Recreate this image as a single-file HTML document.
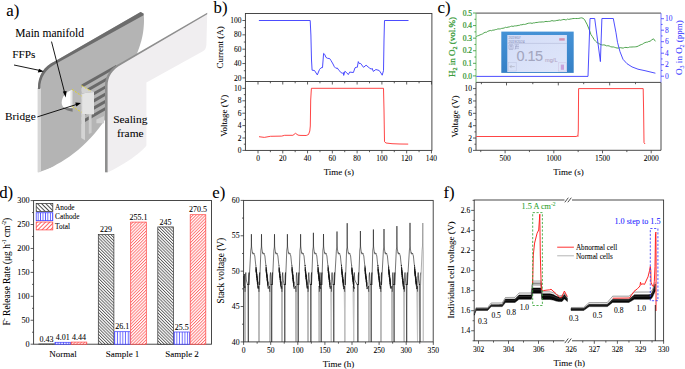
<!DOCTYPE html><html><head><meta charset="utf-8"><style>html,body{margin:0;padding:0;background:#fff;}svg{display:block;}</style></head><body>
<svg width="685" height="369" viewBox="0 0 685 369" font-family='"Liberation Serif", serif'>
<rect width="685" height="369" fill="#fff"/>
<defs><pattern id="hA" patternUnits="userSpaceOnUse" width="2.2" height="2.2" patternTransform="rotate(-45)"><rect width="2.2" height="2.2" fill="#fff"/><line x1="0.5" y1="0" x2="0.5" y2="2.2" stroke="#3a3a3a" stroke-width="0.75"/></pattern><pattern id="hC" patternUnits="userSpaceOnUse" width="2.7" height="4"><rect width="2.7" height="4" fill="#fff"/><line x1="1.3" y1="0" x2="1.3" y2="4" stroke="#3030ff" stroke-width="0.75"/></pattern><pattern id="hT" patternUnits="userSpaceOnUse" width="2.2" height="2.2" patternTransform="rotate(45)"><rect width="2.2" height="2.2" fill="#fff"/><line x1="0.5" y1="0" x2="0.5" y2="2.2" stroke="#ff5050" stroke-width="0.75"/></pattern><pattern id="lA" patternUnits="userSpaceOnUse" width="2.95" height="2.95" patternTransform="rotate(-45)"><rect width="2.95" height="2.95" fill="#fff"/><line x1="0.5" y1="0" x2="0.5" y2="2.95" stroke="#333" stroke-width="0.85"/></pattern><pattern id="lC" patternUnits="userSpaceOnUse" width="2.44" height="4" x="0.3"><rect width="2.44" height="4" fill="#fff"/><line x1="1.2" y1="0" x2="1.2" y2="4" stroke="#3030ff" stroke-width="0.8"/></pattern><pattern id="lT" patternUnits="userSpaceOnUse" width="2.95" height="2.95" patternTransform="rotate(45)"><rect width="2.95" height="2.95" fill="#fff"/><line x1="0.5" y1="0" x2="0.5" y2="2.95" stroke="#ff4a4a" stroke-width="0.85"/></pattern></defs>
<path d="M38,172.6 L38,89 C38,75 44,66.5 55,61.3 L140.6,12.1 L143.5,13.6 C144.2,17 144.2,24 143.5,29 C142.8,36 141,44 136,56 L130,140 Z" fill="#b4b4b4"/>
<path d="M40.6,172.6 C62,163 86,149 106.5,117.5 L110,117.5 L110,176 L36,176 Z" fill="#fff"/>
<path d="M37.6,88 L41,88 L41,172 L37.6,172.6 Z" fill="#d6d6d6"/>
<path d="M37.9,89 C37.9,75 44,66.5 55,61.3 L140.6,12.1 L143.5,13.6 L143.6,15.3 L56.3,63.6 C46,69 40.2,77 40.2,89 Z" fill="#6c6c6c"/>
<path d="M81.5,84.5 L116,65 L116,68.2 L81.5,88.1 Z" fill="#6a6a6a"/>
<path d="M81.5,91.7 L116,72.2 L116,75.4 L81.5,95.3 Z" fill="#6a6a6a"/>
<path d="M81.5,98.9 L116,79.4 L116,82.6 L81.5,102.5 Z" fill="#6a6a6a"/>
<path d="M81.5,106.1 L116,86.6 L116,89.8 L81.5,109.7 Z" fill="#6a6a6a"/>
<path d="M81.5,113.3 L116,93.8 L116,97 L81.5,116.9 Z" fill="#6a6a6a"/>
<path d="M81.5,120.5 L116,101 L116,104.2 L81.5,124.1 Z" fill="#6a6a6a"/>
<path d="M72.4,90 C66,91.5 61.7,97 61.7,102.5 C61.7,106 63.5,108.2 66.5,108.2 L72.4,108.2 Z" fill="#fff"/>
<rect x="70.4" y="90.3" width="2.2" height="17.9" fill="#e4e4e4"/>
<path d="M63.2,107.6 C65,109.6 68,111.2 72.6,111.8 L72.6,108.2 L66.5,108.2 C65,108.2 64,108 63.2,107.6 Z" fill="#777"/>
<path d="M72.6,89.4 L81.3,95.3 L81.3,112.6 L72.6,106.8 Z" fill="#bababa"/>
<path d="M81.3,93.5 L94,92 L94,114.3 L81.3,114.3 Z" fill="#e4e4e4"/>
<path d="M81.3,93.5 L82.2,93.4 L82.2,114.3 L81.3,114.3 Z" fill="#c8c8c8"/>
<path d="M81.6,85.4 L91,90.6 L94,92 L81.3,93.6 Z" fill="#d2d2d2"/>
<path d="M81.2,114 L85,114 L85,140.3 L81.2,138 Z" fill="#d4d4d4"/>
<path d="M88.8,114 L91.6,114 L91.6,132.7 L88.8,134 Z" fill="#cdcdcd"/>
<path d="M96.4,119.5 L104,116 L104,123.3 L96.4,123.3 Z" fill="#d0d0d0"/>
<line x1="72.1" y1="89.4" x2="81.6" y2="96" stroke="#e8d800" stroke-width="0.8" stroke-dasharray="2,1.5"/>
<line x1="72.1" y1="106.5" x2="81.6" y2="112.2" stroke="#e8d800" stroke-width="0.8" stroke-dasharray="2,1.5"/>
<line x1="81.6" y1="85.6" x2="91" y2="91.3" stroke="#e8d800" stroke-width="0.8" stroke-dasharray="2,1.5"/>
<path d="M106,176 L106,86 C106,76 111,68.5 121,63.5 L207.2,13.3 L206.4,45 C206,48.5 205,50 202.9,51.2 L146.4,82.6 L146.4,145.6 C141,153 124,165 107.5,172.6 Z" fill="#f0eef0"/>
<path d="M105,172.6 L105,86 C105,76 110,68 120.5,63 L207.2,12.8 L207.2,14.3 L121.5,64.5 C112,69.5 107.6,77 107.6,86 L107.6,172.6 Z" fill="#8e8e8e"/>
<rect x="0" y="172.6" width="210" height="4" fill="#fff"/>
<text x="6.3" y="16.3" font-size="16.8" text-anchor="start" fill="#000" stroke="#000" stroke-width="0.06" >a)</text>
<text x="15.3" y="37.3" font-size="11.5" text-anchor="start" fill="#000" stroke="#000" stroke-width="0.06" >Main manifold</text>
<text x="12.2" y="58.3" font-size="11.3" text-anchor="start" fill="#000" stroke="#000" stroke-width="0.06" >FFPs</text>
<text x="5" y="120" font-size="11.3" text-anchor="start" fill="#000" stroke="#000" stroke-width="0.06" >Bridge</text>
<text x="130.3" y="123.4" font-size="11.4" text-anchor="middle" fill="#000" stroke="#000" stroke-width="0.06" >Sealing</text>
<text x="130.3" y="137.3" font-size="11.4" text-anchor="middle" fill="#000" stroke="#000" stroke-width="0.06" >frame</text>
<line x1="51.5" y1="41.6" x2="65" y2="94" stroke="#000" stroke-width="0.9" />
<path d="M65.7,97.5 L62.8,91.5 L66.6,91 Z" fill="#000"/>
<line x1="14" y1="65" x2="40" y2="70.5" stroke="#000" stroke-width="0.9" />
<path d="M43.8,71.6 L37.8,72.6 L39,68.8 Z" fill="#000"/>
<line x1="37.4" y1="116.9" x2="77" y2="104.3" stroke="#000" stroke-width="0.9" />
<path d="M81,103.1 L76.3,106.6 L75.3,102.6 Z" fill="#000"/>
<rect x="245.4" y="13.5" width="186.5" height="136.9" fill="none" stroke="#363636" stroke-width="0.9" />
<line x1="245.4" y1="81.5" x2="431.9" y2="81.5" stroke="#363636" stroke-width="0.9" />
<line x1="242.4" y1="77.9" x2="245.4" y2="77.9" stroke="#363636" stroke-width="0.8" />
<text x="241.4" y="80.5" font-size="7.5" text-anchor="end" fill="#000" stroke="#000" stroke-width="0.06" >20</text>
<line x1="243.8" y1="70.72" x2="245.4" y2="70.72" stroke="#363636" stroke-width="0.8" />
<line x1="242.4" y1="63.55" x2="245.4" y2="63.55" stroke="#363636" stroke-width="0.8" />
<text x="241.4" y="66.15" font-size="7.5" text-anchor="end" fill="#000" stroke="#000" stroke-width="0.06" >40</text>
<line x1="243.8" y1="56.38" x2="245.4" y2="56.38" stroke="#363636" stroke-width="0.8" />
<line x1="242.4" y1="49.2" x2="245.4" y2="49.2" stroke="#363636" stroke-width="0.8" />
<text x="241.4" y="51.8" font-size="7.5" text-anchor="end" fill="#000" stroke="#000" stroke-width="0.06" >60</text>
<line x1="243.8" y1="42.03" x2="245.4" y2="42.03" stroke="#363636" stroke-width="0.8" />
<line x1="242.4" y1="34.85" x2="245.4" y2="34.85" stroke="#363636" stroke-width="0.8" />
<text x="241.4" y="37.45" font-size="7.5" text-anchor="end" fill="#000" stroke="#000" stroke-width="0.06" >80</text>
<line x1="243.8" y1="27.68" x2="245.4" y2="27.68" stroke="#363636" stroke-width="0.8" />
<line x1="242.4" y1="20.5" x2="245.4" y2="20.5" stroke="#363636" stroke-width="0.8" />
<text x="241.4" y="23.1" font-size="7.5" text-anchor="end" fill="#000" stroke="#000" stroke-width="0.06" >100</text>
<line x1="242.4" y1="150.4" x2="245.4" y2="150.4" stroke="#363636" stroke-width="0.8" />
<text x="241.4" y="153" font-size="7.5" text-anchor="end" fill="#000" stroke="#000" stroke-width="0.06" >0</text>
<line x1="243.8" y1="144.2" x2="245.4" y2="144.2" stroke="#363636" stroke-width="0.8" />
<line x1="242.4" y1="138" x2="245.4" y2="138" stroke="#363636" stroke-width="0.8" />
<text x="241.4" y="140.6" font-size="7.5" text-anchor="end" fill="#000" stroke="#000" stroke-width="0.06" >2</text>
<line x1="243.8" y1="131.8" x2="245.4" y2="131.8" stroke="#363636" stroke-width="0.8" />
<line x1="242.4" y1="125.6" x2="245.4" y2="125.6" stroke="#363636" stroke-width="0.8" />
<text x="241.4" y="128.2" font-size="7.5" text-anchor="end" fill="#000" stroke="#000" stroke-width="0.06" >4</text>
<line x1="243.8" y1="119.4" x2="245.4" y2="119.4" stroke="#363636" stroke-width="0.8" />
<line x1="242.4" y1="113.2" x2="245.4" y2="113.2" stroke="#363636" stroke-width="0.8" />
<text x="241.4" y="115.8" font-size="7.5" text-anchor="end" fill="#000" stroke="#000" stroke-width="0.06" >6</text>
<line x1="243.8" y1="107" x2="245.4" y2="107" stroke="#363636" stroke-width="0.8" />
<line x1="242.4" y1="100.8" x2="245.4" y2="100.8" stroke="#363636" stroke-width="0.8" />
<text x="241.4" y="103.4" font-size="7.5" text-anchor="end" fill="#000" stroke="#000" stroke-width="0.06" >8</text>
<line x1="243.8" y1="94.6" x2="245.4" y2="94.6" stroke="#363636" stroke-width="0.8" />
<line x1="242.4" y1="88.4" x2="245.4" y2="88.4" stroke="#363636" stroke-width="0.8" />
<text x="241.4" y="91" font-size="7.5" text-anchor="end" fill="#000" stroke="#000" stroke-width="0.06" >10</text>
<line x1="258" y1="150.4" x2="258" y2="153.4" stroke="#363636" stroke-width="0.8" />
<line x1="258" y1="81.5" x2="258" y2="84.5" stroke="#363636" stroke-width="0.8" />
<text x="258" y="160.6" font-size="7.5" text-anchor="middle" fill="#000" stroke="#000" stroke-width="0.06" >0</text>
<line x1="270.39" y1="150.4" x2="270.39" y2="152.2" stroke="#363636" stroke-width="0.8" />
<line x1="270.39" y1="81.5" x2="270.39" y2="83.3" stroke="#363636" stroke-width="0.8" />
<line x1="282.78" y1="150.4" x2="282.78" y2="153.4" stroke="#363636" stroke-width="0.8" />
<line x1="282.78" y1="81.5" x2="282.78" y2="84.5" stroke="#363636" stroke-width="0.8" />
<text x="282.78" y="160.6" font-size="7.5" text-anchor="middle" fill="#000" stroke="#000" stroke-width="0.06" >20</text>
<line x1="295.17" y1="150.4" x2="295.17" y2="152.2" stroke="#363636" stroke-width="0.8" />
<line x1="295.17" y1="81.5" x2="295.17" y2="83.3" stroke="#363636" stroke-width="0.8" />
<line x1="307.56" y1="150.4" x2="307.56" y2="153.4" stroke="#363636" stroke-width="0.8" />
<line x1="307.56" y1="81.5" x2="307.56" y2="84.5" stroke="#363636" stroke-width="0.8" />
<text x="307.56" y="160.6" font-size="7.5" text-anchor="middle" fill="#000" stroke="#000" stroke-width="0.06" >40</text>
<line x1="319.95" y1="150.4" x2="319.95" y2="152.2" stroke="#363636" stroke-width="0.8" />
<line x1="319.95" y1="81.5" x2="319.95" y2="83.3" stroke="#363636" stroke-width="0.8" />
<line x1="332.34" y1="150.4" x2="332.34" y2="153.4" stroke="#363636" stroke-width="0.8" />
<line x1="332.34" y1="81.5" x2="332.34" y2="84.5" stroke="#363636" stroke-width="0.8" />
<text x="332.34" y="160.6" font-size="7.5" text-anchor="middle" fill="#000" stroke="#000" stroke-width="0.06" >60</text>
<line x1="344.73" y1="150.4" x2="344.73" y2="152.2" stroke="#363636" stroke-width="0.8" />
<line x1="344.73" y1="81.5" x2="344.73" y2="83.3" stroke="#363636" stroke-width="0.8" />
<line x1="357.12" y1="150.4" x2="357.12" y2="153.4" stroke="#363636" stroke-width="0.8" />
<line x1="357.12" y1="81.5" x2="357.12" y2="84.5" stroke="#363636" stroke-width="0.8" />
<text x="357.12" y="160.6" font-size="7.5" text-anchor="middle" fill="#000" stroke="#000" stroke-width="0.06" >80</text>
<line x1="369.51" y1="150.4" x2="369.51" y2="152.2" stroke="#363636" stroke-width="0.8" />
<line x1="369.51" y1="81.5" x2="369.51" y2="83.3" stroke="#363636" stroke-width="0.8" />
<line x1="381.9" y1="150.4" x2="381.9" y2="153.4" stroke="#363636" stroke-width="0.8" />
<line x1="381.9" y1="81.5" x2="381.9" y2="84.5" stroke="#363636" stroke-width="0.8" />
<text x="381.9" y="160.6" font-size="7.5" text-anchor="middle" fill="#000" stroke="#000" stroke-width="0.06" >100</text>
<line x1="394.29" y1="150.4" x2="394.29" y2="152.2" stroke="#363636" stroke-width="0.8" />
<line x1="394.29" y1="81.5" x2="394.29" y2="83.3" stroke="#363636" stroke-width="0.8" />
<line x1="406.68" y1="150.4" x2="406.68" y2="153.4" stroke="#363636" stroke-width="0.8" />
<line x1="406.68" y1="81.5" x2="406.68" y2="84.5" stroke="#363636" stroke-width="0.8" />
<text x="406.68" y="160.6" font-size="7.5" text-anchor="middle" fill="#000" stroke="#000" stroke-width="0.06" >120</text>
<line x1="419.07" y1="150.4" x2="419.07" y2="152.2" stroke="#363636" stroke-width="0.8" />
<line x1="419.07" y1="81.5" x2="419.07" y2="83.3" stroke="#363636" stroke-width="0.8" />
<line x1="431.46" y1="150.4" x2="431.46" y2="153.4" stroke="#363636" stroke-width="0.8" />
<line x1="431.46" y1="81.5" x2="431.46" y2="84.5" stroke="#363636" stroke-width="0.8" />
<text x="431.46" y="160.6" font-size="7.5" text-anchor="middle" fill="#000" stroke="#000" stroke-width="0.06" >140</text>
<polyline points="258.9,20.5 310.2,20.5 310.9,35 311.5,60 312.1,70.2 314.5,70.5 317.3,74.9 319.5,69.5 321,67.8 322.5,67.6 323.6,53.4 324.8,54.5 325.9,57.3 327.5,58.3 329.7,58.6 331.1,60.7 333,64 334.4,66.8 335.9,68.3 337.3,68 339,70.5 341.1,72.5 342.5,73.3 343.3,72.5 343.7,75.4 344.9,71.3 346.5,72.5 348.3,74.6 349.7,72.1 353.4,72.5 355,67.8 356.2,67.3 357.3,67.3 358.3,61.6 359.2,63.5 360.7,63.5 363.5,67.3 366.1,65.2 369.2,67.8 371.4,69.2 372.1,68.3 373.3,71.4 375.9,69.5 379.2,70.5 381.6,74 382.2,75.2 383.5,70.6 384,40 384.5,20.5 408.5,20.5" fill="none" stroke="#3838ff" stroke-width="0.9" stroke-linejoin="round" />
<polyline points="259,136.7 264.3,137.4 270.4,136.3 281.7,136.1 284.7,135.3 292.9,135.3 295.5,133.3 298,135.1 300,135.4 306.2,135.5 308.5,134.5 309.8,131 310.3,126 310.7,100 311.4,88.3 383.5,88.3 384,110 384.5,141.7 386,143 392,143.7 400,144 408.2,144.1" fill="none" stroke="#ff3030" stroke-width="0.9" stroke-linejoin="round" />
<text x="213.6" y="12.5" font-size="16.8" text-anchor="start" fill="#000" stroke="#000" stroke-width="0.06" >b)</text>
<text transform="translate(223.2,47.3) rotate(-90)" x="0" y="0" font-size="9" text-anchor="middle" fill="#000" stroke="#000" stroke-width="0.06">Current (A)</text>
<text transform="translate(227.3,115.8) rotate(-90)" x="0" y="0" font-size="9" text-anchor="middle" fill="#000" stroke="#000" stroke-width="0.06">Voltage (V)</text>
<text x="338.9" y="174.8" font-size="9" text-anchor="middle" fill="#000" stroke="#000" stroke-width="0.06" >Time (s)</text>
<defs><linearGradient id="fr" x1="0" y1="0" x2="0" y2="1"><stop offset="0" stop-color="#4592d6"/><stop offset="1" stop-color="#3580c6"/></linearGradient><linearGradient id="scr" x1="0" y1="0" x2="1" y2="1"><stop offset="0" stop-color="#d4ddf7"/><stop offset="1" stop-color="#dfe6fa"/></linearGradient></defs>
<rect x="501.3" y="31.6" width="72.4" height="41.3" fill="url(#fr)" stroke="none" stroke-width="1" />
<rect x="507.3" y="35" width="59.6" height="37" fill="url(#scr)" stroke="none" stroke-width="1" />
<line x1="507.5" y1="43.4" x2="566.8" y2="43.4" stroke="#aab2d2" stroke-width="0.5" />
<text x="508.5" y="39" font-size="3.4" text-anchor="start" fill="#9097c0" stroke="#9097c0" stroke-width="0.06" font-family="Liberation Sans, sans-serif">2019/07</text>
<text x="508.5" y="42.7" font-size="3.4" text-anchor="start" fill="#9097c0" stroke="#9097c0" stroke-width="0.06" font-family="Liberation Sans, sans-serif">2019/2024</text>
<rect x="559.2" y="38.2" width="5.5" height="2.4" fill="#d38fb0" stroke="none" stroke-width="1" />
<path d="M509,44.8 h4 v4.5 h-4z M510,46.2 h2 M511,44.8 v4.5 M514.5,44.8 h4.5 M515,46.5 h4 M515,48.2 h4 M516.5,44.8 l-1.5,4.8" stroke="#9aa0c4" stroke-width="0.6" fill="none"/>
<text x="529.5" y="61.2" font-size="14.5" text-anchor="middle" fill="#a3a6bf" stroke="#a3a6bf" stroke-width="0.06" font-family="Liberation Sans, sans-serif" letter-spacing="-0.6">0.15</text>
<text x="551.3" y="61.8" font-size="5.6" text-anchor="middle" fill="#b4a6c4" stroke="#b4a6c4" stroke-width="0.06" font-family="Liberation Sans, sans-serif">mg/L</text>
<rect x="508.4" y="62.6" width="7.8" height="8.4" fill="none" stroke="#bcc4e0" stroke-width="0.5" />
<path d="M510,66.6 L514.8,66.6 M511.6,65 L510,66.6 L511.6,68.2" stroke="#a3a5b4" stroke-width="0.55" fill="none"/>
<rect x="558.3" y="62.8" width="8" height="8.3" fill="none" stroke="#cdbfe0" stroke-width="0.5" />
<rect x="560.8" y="64.6" width="3.2" height="5.2" fill="#c9a2dc" stroke="none" stroke-width="1" />
<line x1="476" y1="13.1" x2="661" y2="13.1" stroke="#363636" stroke-width="0.9" />
<line x1="476" y1="82.4" x2="661" y2="82.4" stroke="#363636" stroke-width="0.9" />
<line x1="476" y1="82.4" x2="476" y2="150.3" stroke="#363636" stroke-width="0.9" />
<line x1="661" y1="82.4" x2="661" y2="150.3" stroke="#363636" stroke-width="0.9" />
<line x1="476" y1="150.3" x2="661" y2="150.3" stroke="#363636" stroke-width="0.9" />
<line x1="476" y1="13.1" x2="476" y2="82.4" stroke="#6cba6c" stroke-width="0.9" />
<line x1="661" y1="13.1" x2="661" y2="82.4" stroke="#6c6cff" stroke-width="0.9" />
<line x1="473" y1="75.9" x2="476" y2="75.9" stroke="#2f962f" stroke-width="0.8" />
<text x="472" y="78.5" font-size="7.5" text-anchor="end" fill="#2f962f" stroke="#2f962f" stroke-width="0.22" >0.0</text>
<line x1="474.4" y1="69.61" x2="476" y2="69.61" stroke="#2f962f" stroke-width="0.8" />
<line x1="473" y1="63.32" x2="476" y2="63.32" stroke="#2f962f" stroke-width="0.8" />
<text x="472" y="65.92" font-size="7.5" text-anchor="end" fill="#2f962f" stroke="#2f962f" stroke-width="0.22" >0.1</text>
<line x1="474.4" y1="57.03" x2="476" y2="57.03" stroke="#2f962f" stroke-width="0.8" />
<line x1="473" y1="50.74" x2="476" y2="50.74" stroke="#2f962f" stroke-width="0.8" />
<text x="472" y="53.34" font-size="7.5" text-anchor="end" fill="#2f962f" stroke="#2f962f" stroke-width="0.22" >0.2</text>
<line x1="474.4" y1="44.45" x2="476" y2="44.45" stroke="#2f962f" stroke-width="0.8" />
<line x1="473" y1="38.16" x2="476" y2="38.16" stroke="#2f962f" stroke-width="0.8" />
<text x="472" y="40.76" font-size="7.5" text-anchor="end" fill="#2f962f" stroke="#2f962f" stroke-width="0.22" >0.3</text>
<line x1="474.4" y1="31.87" x2="476" y2="31.87" stroke="#2f962f" stroke-width="0.8" />
<line x1="473" y1="25.58" x2="476" y2="25.58" stroke="#2f962f" stroke-width="0.8" />
<text x="472" y="28.18" font-size="7.5" text-anchor="end" fill="#2f962f" stroke="#2f962f" stroke-width="0.22" >0.4</text>
<line x1="474.4" y1="19.29" x2="476" y2="19.29" stroke="#2f962f" stroke-width="0.8" />
<line x1="473" y1="13" x2="476" y2="13" stroke="#2f962f" stroke-width="0.8" />
<text x="472" y="15.6" font-size="7.5" text-anchor="end" fill="#2f962f" stroke="#2f962f" stroke-width="0.22" >0.5</text>
<line x1="661" y1="76.2" x2="664" y2="76.2" stroke="#3a3aff" stroke-width="0.8" />
<text x="665" y="78.8" font-size="7.5" text-anchor="start" fill="#3a3aff" stroke="#3a3aff" stroke-width="0.06" >0</text>
<line x1="661" y1="70.45" x2="662.6" y2="70.45" stroke="#3a3aff" stroke-width="0.8" />
<line x1="661" y1="64.7" x2="664" y2="64.7" stroke="#3a3aff" stroke-width="0.8" />
<text x="665" y="67.3" font-size="7.5" text-anchor="start" fill="#3a3aff" stroke="#3a3aff" stroke-width="0.06" >2</text>
<line x1="661" y1="58.95" x2="662.6" y2="58.95" stroke="#3a3aff" stroke-width="0.8" />
<line x1="661" y1="53.2" x2="664" y2="53.2" stroke="#3a3aff" stroke-width="0.8" />
<text x="665" y="55.8" font-size="7.5" text-anchor="start" fill="#3a3aff" stroke="#3a3aff" stroke-width="0.06" >4</text>
<line x1="661" y1="47.45" x2="662.6" y2="47.45" stroke="#3a3aff" stroke-width="0.8" />
<line x1="661" y1="41.7" x2="664" y2="41.7" stroke="#3a3aff" stroke-width="0.8" />
<text x="665" y="44.3" font-size="7.5" text-anchor="start" fill="#3a3aff" stroke="#3a3aff" stroke-width="0.06" >6</text>
<line x1="661" y1="35.95" x2="662.6" y2="35.95" stroke="#3a3aff" stroke-width="0.8" />
<line x1="661" y1="30.2" x2="664" y2="30.2" stroke="#3a3aff" stroke-width="0.8" />
<text x="665" y="32.8" font-size="7.5" text-anchor="start" fill="#3a3aff" stroke="#3a3aff" stroke-width="0.06" >8</text>
<line x1="661" y1="24.45" x2="662.6" y2="24.45" stroke="#3a3aff" stroke-width="0.8" />
<line x1="661" y1="18.7" x2="664" y2="18.7" stroke="#3a3aff" stroke-width="0.8" />
<text x="665" y="21.3" font-size="7.5" text-anchor="start" fill="#3a3aff" stroke="#3a3aff" stroke-width="0.06" >10</text>
<line x1="473" y1="150.4" x2="476" y2="150.4" stroke="#363636" stroke-width="0.8" />
<text x="472" y="153" font-size="7.5" text-anchor="end" fill="#000" stroke="#000" stroke-width="0.06" >0</text>
<line x1="474.4" y1="144.22" x2="476" y2="144.22" stroke="#363636" stroke-width="0.8" />
<line x1="473" y1="138.04" x2="476" y2="138.04" stroke="#363636" stroke-width="0.8" />
<text x="472" y="140.64" font-size="7.5" text-anchor="end" fill="#000" stroke="#000" stroke-width="0.06" >2</text>
<line x1="474.4" y1="131.86" x2="476" y2="131.86" stroke="#363636" stroke-width="0.8" />
<line x1="473" y1="125.68" x2="476" y2="125.68" stroke="#363636" stroke-width="0.8" />
<text x="472" y="128.28" font-size="7.5" text-anchor="end" fill="#000" stroke="#000" stroke-width="0.06" >4</text>
<line x1="474.4" y1="119.5" x2="476" y2="119.5" stroke="#363636" stroke-width="0.8" />
<line x1="473" y1="113.32" x2="476" y2="113.32" stroke="#363636" stroke-width="0.8" />
<text x="472" y="115.92" font-size="7.5" text-anchor="end" fill="#000" stroke="#000" stroke-width="0.06" >6</text>
<line x1="474.4" y1="107.14" x2="476" y2="107.14" stroke="#363636" stroke-width="0.8" />
<line x1="473" y1="100.96" x2="476" y2="100.96" stroke="#363636" stroke-width="0.8" />
<text x="472" y="103.56" font-size="7.5" text-anchor="end" fill="#000" stroke="#000" stroke-width="0.06" >8</text>
<line x1="474.4" y1="94.78" x2="476" y2="94.78" stroke="#363636" stroke-width="0.8" />
<line x1="473" y1="88.6" x2="476" y2="88.6" stroke="#363636" stroke-width="0.8" />
<text x="472" y="91.2" font-size="7.5" text-anchor="end" fill="#000" stroke="#000" stroke-width="0.06" >10</text>
<line x1="480.75" y1="150.3" x2="480.75" y2="152.1" stroke="#363636" stroke-width="0.8" />
<line x1="505.1" y1="150.3" x2="505.1" y2="153.3" stroke="#363636" stroke-width="0.8" />
<text x="505.1" y="160.6" font-size="7.5" text-anchor="middle" fill="#000" stroke="#000" stroke-width="0.06" >500</text>
<line x1="529.45" y1="150.3" x2="529.45" y2="152.1" stroke="#363636" stroke-width="0.8" />
<line x1="553.8" y1="150.3" x2="553.8" y2="153.3" stroke="#363636" stroke-width="0.8" />
<text x="553.8" y="160.6" font-size="7.5" text-anchor="middle" fill="#000" stroke="#000" stroke-width="0.06" >1000</text>
<line x1="578.15" y1="150.3" x2="578.15" y2="152.1" stroke="#363636" stroke-width="0.8" />
<line x1="602.5" y1="150.3" x2="602.5" y2="153.3" stroke="#363636" stroke-width="0.8" />
<text x="602.5" y="160.6" font-size="7.5" text-anchor="middle" fill="#000" stroke="#000" stroke-width="0.06" >1500</text>
<line x1="626.85" y1="150.3" x2="626.85" y2="152.1" stroke="#363636" stroke-width="0.8" />
<line x1="651.2" y1="150.3" x2="651.2" y2="153.3" stroke="#363636" stroke-width="0.8" />
<text x="651.2" y="160.6" font-size="7.5" text-anchor="middle" fill="#000" stroke="#000" stroke-width="0.06" >2000</text>
<line x1="481.4" y1="82.4" x2="481.4" y2="84.2" stroke="#363636" stroke-width="0.8" />
<line x1="506.5" y1="82.4" x2="506.5" y2="85.4" stroke="#363636" stroke-width="0.8" />
<line x1="532.8" y1="82.4" x2="532.8" y2="84.2" stroke="#363636" stroke-width="0.8" />
<line x1="558.3" y1="82.4" x2="558.3" y2="85.4" stroke="#363636" stroke-width="0.8" />
<line x1="583.7" y1="82.4" x2="583.7" y2="84.2" stroke="#363636" stroke-width="0.8" />
<line x1="609.7" y1="82.4" x2="609.7" y2="85.4" stroke="#363636" stroke-width="0.8" />
<line x1="635.5" y1="82.4" x2="635.5" y2="84.2" stroke="#363636" stroke-width="0.8" />
<polyline points="476.3,36.6 477.57,35.85 478.84,35.49 480.11,34.8 481.38,34.39 482.65,33.84 483.92,32.88 485.19,32.27 486.46,32.28 487.73,31.3 489,30.9 490.27,30.46 491.53,30.74 492.8,30.12 494.07,30.12 495.33,29.62 496.6,29.48 497.87,28.88 499.13,28.97 500.4,28.88 501.67,28.38 502.93,28.28 504.2,27.98 505.47,27.3 506.73,27.53 508,27.1 509.27,26.94 510.53,26.51 511.8,26.09 513.07,26.45 514.33,25.95 515.6,25.89 516.87,25.78 518.13,25.44 519.4,25.35 520.67,24.76 521.93,24.82 523.2,24.34 524.47,24.46 525.73,24.19 527,23.7 528.27,23.26 529.53,23.14 530.8,23.04 532.07,23.41 533.33,22.89 534.6,22.87 535.87,22.49 537.13,22.48 538.4,22.24 539.67,22.06 540.93,22.07 542.2,21.92 543.47,21.99 544.73,21.68 546,21.4 547.2,21.59 548.4,21.42 549.6,21.4 550.8,21.06 552,20.59 553.2,20.96 554.4,20.92 555.6,20.76 556.8,20.41 558,20.4 559.2,19.93 560.4,20.25 561.6,19.96 562.8,19.64 564,19.37 565.2,19.81 566.4,19.79 567.6,19.04 568.8,19.43 570,19.1 571.42,18.89 572.85,18.56 574.28,18.51 575.7,18.5 577.27,18.52 578.83,18.43 580.4,18 581.7,17.83 583,18.3 584.5,19.5 585.75,21.93 587,24.2 589,29 591,34.7 592.5,36.73 594,39.4 595.5,41.15 597,42.6 598.5,43.28 600,44.2 601.25,44.69 602.5,44.99 603.75,44.88 605,45.1 606.4,45.83 607.8,45.73 609.2,45.94 610.6,46.69 612,47 613.25,46.92 614.5,47.29 615.75,47.69 617,48 618.25,48.08 619.5,47.76 620.75,47.68 622,48 623.33,48.06 624.67,47.47 626,47.4 627.2,47.64 628.4,47.52 629.6,47.07 630.8,47.05 632,47 633.25,46.91 634.5,46.9 635.75,46.77 637,46.6 638.5,45.89 640,45.1 641.25,44.56 642.5,44.16 643.75,43.23 645,42.6 646.25,42.23 647.5,42.1 648.75,41.44 650,41.3 651.75,39.91 653.5,38.8 655.4,41.3" fill="none" stroke="#3c9a3c" stroke-width="0.9" stroke-linejoin="round" />
<polyline points="476.3,76.4 588,76.4 590,18.5 594.7,18.5 600.4,61.6 601.9,18.5 613.3,18.5 616,32.8 617.5,42.3 620,51.7 623,59.3 627,63.7 632,66.9 638,69.2 645,70.7 655.4,73.2" fill="none" stroke="#3a3aff" stroke-width="0.9" stroke-linejoin="round" />
<polyline points="476.3,136.5 576.6,136.5 577.3,135.6 577.9,136.5 578.3,130 578.6,88.6 643.2,88.6 643.6,110 644,142.5 645,144" fill="none" stroke="#ff3030" stroke-width="0.9" stroke-linejoin="round" />
<text x="437.6" y="12.5" font-size="16.8" text-anchor="start" fill="#000" stroke="#000" stroke-width="0.06" >c)</text>
<text transform="translate(454.8,47.1) rotate(-90)" x="0" y="0" font-size="9" text-anchor="middle" fill="#2f962f" stroke="#2f962f" stroke-width="0.22">H<tspan font-size="6" dy="2">2</tspan><tspan dy="-2"> in O</tspan><tspan font-size="6" dy="2">2</tspan><tspan dy="-2"> (vol.%)</tspan></text>
<text transform="translate(681.5,47.5) rotate(-90)" x="0" y="0" font-size="9" text-anchor="middle" fill="#3a3aff" stroke="#3a3aff" stroke-width="0.06">O<tspan font-size="6" dy="2">3</tspan><tspan dy="-2"> in O</tspan><tspan font-size="6" dy="2">2</tspan><tspan dy="-2"> (ppm)</tspan></text>
<text transform="translate(458.2,116.5) rotate(-90)" x="0" y="0" font-size="9" text-anchor="middle" fill="#000" stroke="#000" stroke-width="0.06">Voltage (V)</text>
<text x="568.5" y="174.8" font-size="9" text-anchor="middle" fill="#000" stroke="#000" stroke-width="0.06" >Time (s)</text>
<rect x="33.6" y="200.5" width="177.9" height="143.7" fill="none" stroke="#363636" stroke-width="0.9" />
<line x1="30.6" y1="344.2" x2="33.6" y2="344.2" stroke="#363636" stroke-width="0.8" />
<text x="29.6" y="347" font-size="8.2" text-anchor="end" fill="#000" stroke="#000" stroke-width="0.06" >0</text>
<line x1="32" y1="332.23" x2="33.6" y2="332.23" stroke="#363636" stroke-width="0.8" />
<line x1="30.6" y1="320.26" x2="33.6" y2="320.26" stroke="#363636" stroke-width="0.8" />
<text x="29.6" y="323.06" font-size="8.2" text-anchor="end" fill="#000" stroke="#000" stroke-width="0.06" >50</text>
<line x1="32" y1="308.3" x2="33.6" y2="308.3" stroke="#363636" stroke-width="0.8" />
<line x1="30.6" y1="296.33" x2="33.6" y2="296.33" stroke="#363636" stroke-width="0.8" />
<text x="29.6" y="299.13" font-size="8.2" text-anchor="end" fill="#000" stroke="#000" stroke-width="0.06" >100</text>
<line x1="32" y1="284.36" x2="33.6" y2="284.36" stroke="#363636" stroke-width="0.8" />
<line x1="30.6" y1="272.39" x2="33.6" y2="272.39" stroke="#363636" stroke-width="0.8" />
<text x="29.6" y="275.19" font-size="8.2" text-anchor="end" fill="#000" stroke="#000" stroke-width="0.06" >150</text>
<line x1="32" y1="260.43" x2="33.6" y2="260.43" stroke="#363636" stroke-width="0.8" />
<line x1="30.6" y1="248.46" x2="33.6" y2="248.46" stroke="#363636" stroke-width="0.8" />
<text x="29.6" y="251.26" font-size="8.2" text-anchor="end" fill="#000" stroke="#000" stroke-width="0.06" >200</text>
<line x1="32" y1="236.49" x2="33.6" y2="236.49" stroke="#363636" stroke-width="0.8" />
<line x1="30.6" y1="224.52" x2="33.6" y2="224.52" stroke="#363636" stroke-width="0.8" />
<text x="29.6" y="227.32" font-size="8.2" text-anchor="end" fill="#000" stroke="#000" stroke-width="0.06" >250</text>
<line x1="32" y1="212.56" x2="33.6" y2="212.56" stroke="#363636" stroke-width="0.8" />
<line x1="30.6" y1="200.59" x2="33.6" y2="200.59" stroke="#363636" stroke-width="0.8" />
<text x="29.6" y="203.39" font-size="8.2" text-anchor="end" fill="#000" stroke="#000" stroke-width="0.06" >300</text>
<rect x="38.8" y="343.99" width="15.6" height="0.21" fill="url(#hA)" stroke="#333" stroke-width="0.7" />
<text x="46.6" y="341.69" font-size="8" text-anchor="middle" fill="#000" stroke="#000" stroke-width="0.06" >0.43</text>
<rect x="55" y="342.28" width="15.6" height="1.92" fill="url(#hC)" stroke="#3838ff" stroke-width="0.7" />
<text x="62.8" y="339.98" font-size="8" text-anchor="middle" fill="#000" stroke="#000" stroke-width="0.06" >4.01</text>
<rect x="71.2" y="342.07" width="15.6" height="2.13" fill="url(#hT)" stroke="#ff4040" stroke-width="0.7" />
<text x="79" y="339.77" font-size="8" text-anchor="middle" fill="#000" stroke="#000" stroke-width="0.06" >4.44</text>
<text x="63" y="357.3" font-size="9" text-anchor="middle" fill="#000" stroke="#000" stroke-width="0.06" >Normal</text>
<rect x="98.3" y="234.58" width="15.6" height="109.62" fill="url(#hA)" stroke="#333" stroke-width="0.7" />
<text x="106.1" y="232.28" font-size="8" text-anchor="middle" fill="#000" stroke="#000" stroke-width="0.06" >229</text>
<rect x="114.5" y="331.71" width="15.6" height="12.49" fill="url(#hC)" stroke="#3838ff" stroke-width="0.7" />
<text x="122.3" y="329.41" font-size="8" text-anchor="middle" fill="#000" stroke="#000" stroke-width="0.06" >26.1</text>
<rect x="130.7" y="222.08" width="15.6" height="122.12" fill="url(#hT)" stroke="#ff4040" stroke-width="0.7" />
<text x="138.5" y="219.78" font-size="8" text-anchor="middle" fill="#000" stroke="#000" stroke-width="0.06" >255.1</text>
<text x="122.5" y="357.3" font-size="9" text-anchor="middle" fill="#000" stroke="#000" stroke-width="0.06" >Sample 1</text>
<rect x="157.8" y="226.92" width="15.6" height="117.28" fill="url(#hA)" stroke="#333" stroke-width="0.7" />
<text x="165.6" y="224.62" font-size="8" text-anchor="middle" fill="#000" stroke="#000" stroke-width="0.06" >245</text>
<rect x="174" y="331.99" width="15.6" height="12.21" fill="url(#hC)" stroke="#3838ff" stroke-width="0.7" />
<text x="181.8" y="329.69" font-size="8" text-anchor="middle" fill="#000" stroke="#000" stroke-width="0.06" >25.5</text>
<rect x="190.2" y="214.71" width="15.6" height="129.49" fill="url(#hT)" stroke="#ff4040" stroke-width="0.7" />
<text x="198" y="212.41" font-size="8" text-anchor="middle" fill="#000" stroke="#000" stroke-width="0.06" >270.5</text>
<text x="182" y="357.3" font-size="9" text-anchor="middle" fill="#000" stroke="#000" stroke-width="0.06" >Sample 2</text>
<rect x="36.2" y="203.5" width="16.6" height="7.9" fill="url(#lA)" stroke="#333" stroke-width="0.75" />
<text x="55.1" y="210" font-size="7.3" text-anchor="start" fill="#000" stroke="#000" stroke-width="0.06" >Anode</text>
<rect x="36.2" y="212.75" width="16.6" height="7.9" fill="url(#lC)" stroke="#3838ff" stroke-width="0.75" />
<text x="55.1" y="219.25" font-size="7.3" text-anchor="start" fill="#000" stroke="#000" stroke-width="0.06" >Cathode</text>
<rect x="36.2" y="222" width="16.6" height="7.9" fill="url(#lT)" stroke="#ff4040" stroke-width="0.75" />
<text x="55.1" y="228.5" font-size="7.3" text-anchor="start" fill="#000" stroke="#000" stroke-width="0.06" >Total</text>
<text x="-0.8" y="197.7" font-size="16.8" text-anchor="start" fill="#000" stroke="#000" stroke-width="0.06" >d)</text>
<text transform="translate(9.8,271.6) rotate(-90)" x="0" y="0" font-size="9.5" text-anchor="middle" fill="#000" stroke="#000" stroke-width="0.06">F<tspan font-size="5.5" dy="-3.5">-</tspan><tspan dy="3.5"> Release Rate (&#956;g h</tspan><tspan font-size="5.5" dy="-3.5">-1</tspan><tspan dy="3.5"> cm</tspan><tspan font-size="5.5" dy="-3.5">-2</tspan><tspan dy="3.5">)</tspan></text>
<rect x="243.6" y="200.4" width="189.6" height="141.5" fill="none" stroke="#363636" stroke-width="0.9" />
<line x1="240.6" y1="341.9" x2="243.6" y2="341.9" stroke="#363636" stroke-width="0.8" />
<text x="239.6" y="344.5" font-size="7.8" text-anchor="end" fill="#000" stroke="#000" stroke-width="0.06" >40</text>
<line x1="242" y1="324.21" x2="243.6" y2="324.21" stroke="#363636" stroke-width="0.8" />
<line x1="240.6" y1="306.52" x2="243.6" y2="306.52" stroke="#363636" stroke-width="0.8" />
<text x="239.6" y="309.12" font-size="7.8" text-anchor="end" fill="#000" stroke="#000" stroke-width="0.06" >45</text>
<line x1="242" y1="288.84" x2="243.6" y2="288.84" stroke="#363636" stroke-width="0.8" />
<line x1="240.6" y1="271.15" x2="243.6" y2="271.15" stroke="#363636" stroke-width="0.8" />
<text x="239.6" y="273.75" font-size="7.8" text-anchor="end" fill="#000" stroke="#000" stroke-width="0.06" >50</text>
<line x1="242" y1="253.46" x2="243.6" y2="253.46" stroke="#363636" stroke-width="0.8" />
<line x1="240.6" y1="235.77" x2="243.6" y2="235.77" stroke="#363636" stroke-width="0.8" />
<text x="239.6" y="238.37" font-size="7.8" text-anchor="end" fill="#000" stroke="#000" stroke-width="0.06" >55</text>
<line x1="242" y1="218.09" x2="243.6" y2="218.09" stroke="#363636" stroke-width="0.8" />
<line x1="240.6" y1="200.4" x2="243.6" y2="200.4" stroke="#363636" stroke-width="0.8" />
<text x="239.6" y="203" font-size="7.8" text-anchor="end" fill="#000" stroke="#000" stroke-width="0.06" >60</text>
<line x1="243.6" y1="341.9" x2="243.6" y2="344.9" stroke="#363636" stroke-width="0.8" />
<text x="243.6" y="352.9" font-size="7.6" text-anchor="middle" fill="#000" stroke="#000" stroke-width="0.06" >0</text>
<line x1="257.15" y1="341.9" x2="257.15" y2="343.7" stroke="#363636" stroke-width="0.8" />
<line x1="270.7" y1="341.9" x2="270.7" y2="344.9" stroke="#363636" stroke-width="0.8" />
<text x="270.7" y="352.9" font-size="7.6" text-anchor="middle" fill="#000" stroke="#000" stroke-width="0.06" >50</text>
<line x1="284.25" y1="341.9" x2="284.25" y2="343.7" stroke="#363636" stroke-width="0.8" />
<line x1="297.8" y1="341.9" x2="297.8" y2="344.9" stroke="#363636" stroke-width="0.8" />
<text x="297.8" y="352.9" font-size="7.6" text-anchor="middle" fill="#000" stroke="#000" stroke-width="0.06" >100</text>
<line x1="311.35" y1="341.9" x2="311.35" y2="343.7" stroke="#363636" stroke-width="0.8" />
<line x1="324.9" y1="341.9" x2="324.9" y2="344.9" stroke="#363636" stroke-width="0.8" />
<text x="324.9" y="352.9" font-size="7.6" text-anchor="middle" fill="#000" stroke="#000" stroke-width="0.06" >150</text>
<line x1="338.45" y1="341.9" x2="338.45" y2="343.7" stroke="#363636" stroke-width="0.8" />
<line x1="352" y1="341.9" x2="352" y2="344.9" stroke="#363636" stroke-width="0.8" />
<text x="352" y="352.9" font-size="7.6" text-anchor="middle" fill="#000" stroke="#000" stroke-width="0.06" >200</text>
<line x1="365.55" y1="341.9" x2="365.55" y2="343.7" stroke="#363636" stroke-width="0.8" />
<line x1="379.1" y1="341.9" x2="379.1" y2="344.9" stroke="#363636" stroke-width="0.8" />
<text x="379.1" y="352.9" font-size="7.6" text-anchor="middle" fill="#000" stroke="#000" stroke-width="0.06" >250</text>
<line x1="392.65" y1="341.9" x2="392.65" y2="343.7" stroke="#363636" stroke-width="0.8" />
<line x1="406.2" y1="341.9" x2="406.2" y2="344.9" stroke="#363636" stroke-width="0.8" />
<text x="406.2" y="352.9" font-size="7.6" text-anchor="middle" fill="#000" stroke="#000" stroke-width="0.06" >300</text>
<line x1="419.75" y1="341.9" x2="419.75" y2="343.7" stroke="#363636" stroke-width="0.8" />
<line x1="433.3" y1="341.9" x2="433.3" y2="344.9" stroke="#363636" stroke-width="0.8" />
<text x="433.3" y="352.9" font-size="7.6" text-anchor="middle" fill="#000" stroke="#000" stroke-width="0.06" >350</text>
<polyline points="243.6,276 244,286 244.4,274 244.8,288 244.75,286 245.1,341.9 245.4,276 245.8,272.5 246.3,280 247.7,285 247.95,284 248.3,341.9 248.6,276 249,272.5 248.9,285 250.8,250 251.25,247 251.4,234.2 251.55,246 251.85,249 252.5,253.3 252.8,252.6 253.2,254.2 254,253.2 254.3,254.5 254.8,256 255.5,263 255.9,266 255.9,265.87 256,271.73 256.1,267.06 256.2,272.81 256.3,268.6 256.4,275.2 256.5,269.82 256.6,276.94 256.7,272.26 256.8,277.97 256.9,273.95 257,280.16 257.1,275.72 257.2,281.72 257.3,277.45 257.4,283.89 257.5,278.33 257.6,284.77 257.7,280.81 257.8,287.56 257.9,282 258,288.65 258.2,287.5 258.7,288.5 258.65,286 259,341.9 259.3,276 259.7,272.5 259.6,285 260.9,250 261.35,247 261.5,234.2 261.65,246 261.95,249 262.6,253.3 262.9,252.6 263.3,254.2 264.1,253.2 264.4,254.5 264.9,256 265.6,263 266,266 266,265.41 266.1,271.48 266.2,266.84 266.3,273.18 266.4,268.54 266.5,275.21 266.6,270.16 266.7,276.65 266.8,272.43 266.9,277.93 267,273.88 267.1,280.48 267.2,275.27 267.3,281.57 267.4,277.56 267.5,283.29 267.6,278.52 267.7,285.22 267.8,280.84 267.9,286.52 268,282.09 268.1,288.5 268.3,287.5 268.8,288.5 269.45,286 269.8,341.9 270.1,276 270.5,272.5 271,280 271.1,285 271.35,284 271.7,341.9 272,276 272.4,272.5 272.3,285 273.9,250 274.35,247 274.5,234.2 274.65,246 274.95,249 275.6,253.3 275.9,252.6 276.3,254.2 277.1,253.2 277.4,254.5 277.9,256 278.6,263 279,266 279,265.7 279.1,271.63 279.2,267.43 279.3,273 279.4,268.5 279.5,275.28 279.6,270.86 279.7,276.74 279.8,271.77 279.9,278.05 280,273.84 280.1,279.83 280.2,275.87 280.3,282.31 280.4,276.82 280.5,283.33 280.6,279.27 280.7,285.47 280.8,280.97 280.9,286.81 281,281.86 281.1,288.45 281.3,287.5 281.8,288.5 281.65,286 282,341.9 282.3,276 282.7,272.5 283.2,280 284.2,285 284.45,284 284.8,341.9 285.1,276 285.5,272.5 285.4,285 286.8,250 287.25,247 287.4,234.2 287.55,246 287.85,249 288.5,253.3 288.8,252.6 289.2,254.2 290,253.2 290.3,254.5 290.8,256 291.5,263 291.9,266 291.9,265.65 292,271.43 292.1,266.82 292.2,273.3 292.3,268.6 292.4,274.99 292.5,270.9 292.6,276.39 292.7,271.51 292.8,279.03 292.9,274.26 293,280.78 293.1,275.42 293.2,282.44 293.3,277.71 293.4,283.27 293.5,279.19 293.6,285.7 293.7,280.8 293.8,287.02 293.9,282.05 294,288.51 294.2,287.5 294.7,288.5 295.65,286 296,341.9 296.3,276 296.7,272.5 297.2,280 297.6,285 297.85,284 298.2,341.9 298.5,276 298.9,272.5 298.8,285 300,250 300.45,247 300.6,234.2 300.75,246 301.05,249 301.7,253.3 302,252.6 302.4,254.2 303.2,253.2 303.5,254.5 304,256 304.7,263 305.1,266 305.1,264.97 305.2,271.18 305.3,267.11 305.4,273.14 305.5,269.07 305.6,274.55 305.7,270.88 305.8,277.03 305.9,272.61 306,278.98 306.1,274.28 306.2,280.29 306.3,274.92 306.4,282.19 306.5,276.81 306.6,283.36 306.7,279.1 306.8,285.33 306.9,280.5 307,287.53 307.1,282.43 307.2,288.51 307.4,287.5 307.9,288.5 307.75,286 308.1,341.9 308.4,276 308.8,272.5 309.3,280 310.3,285 310.55,284 310.9,341.9 311.2,276 311.6,272.5 311.5,285 312.8,250 313.25,247 313.4,232.8 313.55,246 313.85,249 314.5,253.3 314.8,252.6 315.2,254.2 316,253.2 316.3,254.5 316.8,256 317.5,263 317.9,266 317.9,265 318,272.13 318.1,266.97 318.2,273.74 318.3,268.52 318.4,274.74 318.5,270.44 318.6,277.18 318.7,271.71 318.8,278.85 318.9,274.31 319,280.57 319.1,275.89 319.2,281.31 319.3,277.35 319.4,284.04 319.5,278.36 319.6,285.03 319.7,280.32 319.8,287.03 319.9,282.21 320,288.67 320.2,287.5 320.7,288.5 318.95,286 319.3,341.9 319.6,276 320,272.5 320.5,280 320.6,285 320.85,284 321.2,341.9 321.5,276 321.9,272.5 321.8,285 322.9,250 323.35,247 323.5,234 323.65,246 323.95,249 324.6,253.3 324.9,252.6 325.3,254.2 326.1,253.2 326.4,254.5 326.9,256 327.6,263 328,266 328,265.63 328.1,271.1 328.2,266.47 328.3,272.95 328.4,268.25 328.5,274.58 328.6,270.97 328.7,277.23 328.8,271.6 328.9,278.5 329,273.58 329.1,279.98 329.2,275.32 329.3,282.08 329.4,277.3 329.5,283.43 329.6,278.53 329.7,285.09 329.8,280.15 329.9,287.07 330,282.56 330.1,288.56 330.3,287.5 330.8,288.5 331.05,286 331.4,341.9 331.7,276 332.1,272.5 332.6,280 333.2,285 333.45,284 333.8,341.9 334.1,276 334.5,272.5 334.4,285 336.4,250 336.85,247 337,231.5 337.15,246 337.45,249 338.1,253.3 338.4,252.6 338.8,254.2 339.6,253.2 339.9,254.5 340.4,256 341.1,263 341.5,266 341.5,264.8 341.6,271.31 341.7,266.85 341.8,273.53 341.9,269.04 342,274.96 342.1,270.76 342.2,276.95 342.3,272.02 342.4,278.35 342.5,273.8 342.6,280.44 342.7,275.4 342.8,282.13 342.9,277.15 343,283.29 343.1,278.94 343.2,285.53 343.3,280.09 343.4,286.91 343.5,282.21 343.6,289.16 343.8,287.5 344.3,288.5 344.35,286 344.7,341.9 345,276 345.4,272.5 345.3,285 346.6,250 347.05,247 347.2,223.2 347.35,246 347.65,249 348.3,253.3 348.6,252.6 349,254.2 349.8,253.2 350.1,254.5 350.6,256 351.3,263 351.7,266 351.7,265.82 351.8,271.55 351.9,267.48 352,273.75 352.1,268.41 352.2,275.06 352.3,269.95 352.4,277.18 352.5,272.29 352.6,278.96 352.7,274.15 352.8,280.4 352.9,275.78 353,281.98 353.1,276.72 353.2,283.71 353.3,278.31 353.4,284.87 353.5,280.93 353.6,286.45 353.7,281.81 353.8,288.22 354,287.5 354.5,288.5 353.25,286 353.6,341.9 353.9,276 354.3,272.5 354.8,280 357.3,285 357.55,284 357.9,341.9 358.2,276 358.6,272.5 358.5,285 359.8,250 360.25,247 360.4,231 360.55,246 360.85,249 361.5,253.3 361.8,252.6 362.2,254.2 363,253.2 363.3,254.5 363.8,256 364.5,263 364.9,266 364.9,265.76 365,271.31 365.1,266.43 365.2,273.81 365.3,268.25 365.4,275.51 365.5,270.61 365.6,277.2 365.7,272.64 365.8,278.59 365.9,274.16 366,279.64 366.1,275.82 366.2,281.91 366.3,277.46 366.4,283.13 366.5,279.2 366.6,285.82 366.7,280.07 366.8,286.79 366.9,282.38 367,289.09 367.2,287.5 367.7,288.5 368.45,286 368.8,341.9 369.1,276 369.5,272.5 370,280 370.6,285 370.85,284 371.2,341.9 371.5,276 371.9,272.5 371.8,285 372.8,250 373.25,247 373.4,229.5 373.55,246 373.85,249 374.5,253.3 374.8,252.6 375.2,254.2 376,253.2 376.3,254.5 376.8,256 377.5,263 377.9,266 377.9,264.99 378,271.32 378.1,266.7 378.2,273.54 378.3,269 378.4,274.97 378.5,270.24 378.6,276.68 378.7,271.92 378.8,278.4 378.9,273.3 379,280.2 379.1,276.07 379.2,281.8 379.3,277.5 379.4,283.19 379.5,279.13 379.6,285.61 379.7,280.81 379.8,287.02 379.9,282.28 380,288.87 380.2,287.5 380.7,288.5 380.55,286 380.9,341.9 381.2,276 381.6,272.5 381.5,285 383.4,250 383.85,247 384,229 384.15,246 384.45,249 385.1,253.3 385.4,252.6 385.8,254.2 386.6,253.2 386.9,254.5 387.4,256 388.1,263 388.5,266 388.5,265.78 388.6,271.28 388.7,266.52 388.8,273.7 388.9,269.2 389,275.12 389.1,270.33 389.2,277.06 389.3,271.72 389.4,278.22 389.5,273.44 389.6,280.3 389.7,275.28 389.8,281.58 389.9,277.43 390,284.14 390.1,278.66 390.2,285.55 390.3,280.5 390.4,287.42 390.5,282.4 390.6,288.42 390.8,287.5 391.3,288.5 391.85,286 392.2,341.9 392.5,276 392.9,272.5 393.4,280 393.5,285 393.75,284 394.1,341.9 394.4,276 394.8,272.5 394.7,285 396.3,250 396.75,247 396.9,226.1 397.05,246 397.35,249 398,253.3 398.3,252.6 398.7,254.2 399.5,253.2 399.8,254.5 400.3,256 401,263 401.4,266 401.4,264.96 401.5,271.13 401.6,266.98 401.7,273.26 401.8,268.31 401.9,274.93 402,270.19 402.1,277.13 402.2,271.67 402.3,279.09 402.4,273.78 402.5,280.32 402.6,275.46 402.7,282.3 402.8,277.59 402.9,283.67 403,278.88 403.1,285.56 403.2,281.03 403.3,286.88 403.4,282.58 403.5,289.25 403.7,287.5 404.2,288.5 403.95,286 404.3,341.9 404.6,276 405,272.5 405.5,280 406.1,285 406.35,284 406.7,341.9 407,276 407.4,272.5 407.3,285 409.4,250 409.85,247 410,222.9 410.15,246 410.45,249 411.1,253.3 411.4,252.6 411.8,254.2 412.6,253.2 412.9,254.5 413.4,256 414.1,263 414.5,266 414.5,265.26 414.6,271.38 414.7,266.68 414.8,273.66 414.9,268.91 415,275.65 415.1,270.82 415.2,276.49 415.3,271.73 415.4,278.21 415.5,273.42 415.6,280.45 415.7,275.93 415.8,282.38 415.9,276.91 416,284.04 416.1,278.68 416.2,285.21 416.3,280.87 416.4,286.5 416.5,281.81 416.6,289.1 416.8,287.5 417.3,288.5 417.15,286 417.5,341.9 417.8,276 418.2,272.5 418.7,280 419.4,285 419.65,284 420,341.9 420.3,276 420.7,272.5" fill="none" stroke="#111" stroke-width="0.58" stroke-linejoin="round" stroke-linejoin="miter" stroke-miterlimit="2"/>
<line x1="245.1" y1="292" x2="245.1" y2="341.3" stroke="#fff" stroke-width="1.1"/>
<line x1="245.1" y1="291" x2="245.1" y2="341.5" stroke="#9a9a9a" stroke-width="0.6"/>
<line x1="259" y1="292" x2="259" y2="341.3" stroke="#fff" stroke-width="1.1"/>
<line x1="259" y1="291" x2="259" y2="341.5" stroke="#9a9a9a" stroke-width="0.6"/>
<line x1="269.8" y1="292" x2="269.8" y2="341.3" stroke="#fff" stroke-width="1.1"/>
<line x1="269.8" y1="291" x2="269.8" y2="341.5" stroke="#9a9a9a" stroke-width="0.6"/>
<line x1="282" y1="292" x2="282" y2="341.3" stroke="#fff" stroke-width="1.1"/>
<line x1="282" y1="291" x2="282" y2="341.5" stroke="#9a9a9a" stroke-width="0.6"/>
<line x1="296" y1="292" x2="296" y2="341.3" stroke="#fff" stroke-width="1.1"/>
<line x1="296" y1="291" x2="296" y2="341.5" stroke="#9a9a9a" stroke-width="0.6"/>
<line x1="308.1" y1="292" x2="308.1" y2="341.3" stroke="#fff" stroke-width="1.1"/>
<line x1="308.1" y1="291" x2="308.1" y2="341.5" stroke="#9a9a9a" stroke-width="0.6"/>
<line x1="319.3" y1="292" x2="319.3" y2="341.3" stroke="#fff" stroke-width="1.1"/>
<line x1="319.3" y1="291" x2="319.3" y2="341.5" stroke="#9a9a9a" stroke-width="0.6"/>
<line x1="331.4" y1="292" x2="331.4" y2="341.3" stroke="#fff" stroke-width="1.1"/>
<line x1="331.4" y1="291" x2="331.4" y2="341.5" stroke="#9a9a9a" stroke-width="0.6"/>
<line x1="344.7" y1="292" x2="344.7" y2="341.3" stroke="#fff" stroke-width="1.1"/>
<line x1="344.7" y1="291" x2="344.7" y2="341.5" stroke="#9a9a9a" stroke-width="0.6"/>
<line x1="353.6" y1="292" x2="353.6" y2="341.3" stroke="#fff" stroke-width="1.1"/>
<line x1="353.6" y1="291" x2="353.6" y2="341.5" stroke="#9a9a9a" stroke-width="0.6"/>
<line x1="368.8" y1="292" x2="368.8" y2="341.3" stroke="#fff" stroke-width="1.1"/>
<line x1="368.8" y1="291" x2="368.8" y2="341.5" stroke="#9a9a9a" stroke-width="0.6"/>
<line x1="380.9" y1="292" x2="380.9" y2="341.3" stroke="#fff" stroke-width="1.1"/>
<line x1="380.9" y1="291" x2="380.9" y2="341.5" stroke="#9a9a9a" stroke-width="0.6"/>
<line x1="392.2" y1="292" x2="392.2" y2="341.3" stroke="#fff" stroke-width="1.1"/>
<line x1="392.2" y1="291" x2="392.2" y2="341.5" stroke="#9a9a9a" stroke-width="0.6"/>
<line x1="404.3" y1="292" x2="404.3" y2="341.3" stroke="#fff" stroke-width="1.1"/>
<line x1="404.3" y1="291" x2="404.3" y2="341.5" stroke="#9a9a9a" stroke-width="0.6"/>
<line x1="417.5" y1="292" x2="417.5" y2="341.3" stroke="#fff" stroke-width="1.1"/>
<line x1="417.5" y1="291" x2="417.5" y2="341.5" stroke="#9a9a9a" stroke-width="0.6"/>
<polyline points="417.9,276 419.6,284" fill="none" stroke="#555" stroke-width="0.5" stroke-linejoin="round" />
<polyline points="420.6,285 422.1,250 422.5,246 422.8,223 423,246 423.2,252 423.2,341.9" fill="none" stroke="#8a8a8a" stroke-width="0.7" stroke-linejoin="round" />
<text x="212.3" y="198.2" font-size="16.8" text-anchor="start" fill="#000" stroke="#000" stroke-width="0.06" >e)</text>
<text transform="translate(224.3,270.7) rotate(-90)" x="0" y="0" font-size="9.3" text-anchor="middle" fill="#000" stroke="#000" stroke-width="0.06">Stack voltage (V)</text>
<text x="338.5" y="366.5" font-size="9" text-anchor="middle" fill="#000" stroke="#000" stroke-width="0.06" >Time (h)</text>
<rect x="474.2" y="200" width="189.4" height="140.8" fill="none" stroke="#363636" stroke-width="0.9" />
<line x1="472.6" y1="340.79" x2="474.2" y2="340.79" stroke="#363636" stroke-width="0.8" />
<line x1="471.2" y1="330.76" x2="474.2" y2="330.76" stroke="#363636" stroke-width="0.8" />
<text x="470.2" y="333.36" font-size="7.5" text-anchor="end" fill="#000" stroke="#000" stroke-width="0.06" >1.4</text>
<line x1="472.6" y1="320.73" x2="474.2" y2="320.73" stroke="#363636" stroke-width="0.8" />
<line x1="471.2" y1="310.7" x2="474.2" y2="310.7" stroke="#363636" stroke-width="0.8" />
<text x="470.2" y="313.3" font-size="7.5" text-anchor="end" fill="#000" stroke="#000" stroke-width="0.06" >1.6</text>
<line x1="472.6" y1="300.67" x2="474.2" y2="300.67" stroke="#363636" stroke-width="0.8" />
<line x1="471.2" y1="290.64" x2="474.2" y2="290.64" stroke="#363636" stroke-width="0.8" />
<text x="470.2" y="293.24" font-size="7.5" text-anchor="end" fill="#000" stroke="#000" stroke-width="0.06" >1.8</text>
<line x1="472.6" y1="280.61" x2="474.2" y2="280.61" stroke="#363636" stroke-width="0.8" />
<line x1="471.2" y1="270.58" x2="474.2" y2="270.58" stroke="#363636" stroke-width="0.8" />
<text x="470.2" y="273.18" font-size="7.5" text-anchor="end" fill="#000" stroke="#000" stroke-width="0.06" >2.0</text>
<line x1="472.6" y1="260.55" x2="474.2" y2="260.55" stroke="#363636" stroke-width="0.8" />
<line x1="471.2" y1="250.52" x2="474.2" y2="250.52" stroke="#363636" stroke-width="0.8" />
<text x="470.2" y="253.12" font-size="7.5" text-anchor="end" fill="#000" stroke="#000" stroke-width="0.06" >2.2</text>
<line x1="472.6" y1="240.49" x2="474.2" y2="240.49" stroke="#363636" stroke-width="0.8" />
<line x1="471.2" y1="230.46" x2="474.2" y2="230.46" stroke="#363636" stroke-width="0.8" />
<text x="470.2" y="233.06" font-size="7.5" text-anchor="end" fill="#000" stroke="#000" stroke-width="0.06" >2.4</text>
<line x1="472.6" y1="220.43" x2="474.2" y2="220.43" stroke="#363636" stroke-width="0.8" />
<line x1="471.2" y1="210.4" x2="474.2" y2="210.4" stroke="#363636" stroke-width="0.8" />
<text x="470.2" y="213" font-size="7.5" text-anchor="end" fill="#000" stroke="#000" stroke-width="0.06" >2.6</text>
<line x1="472.6" y1="200.37" x2="474.2" y2="200.37" stroke="#363636" stroke-width="0.8" />
<line x1="478.5" y1="340.8" x2="478.5" y2="343.8" stroke="#363636" stroke-width="0.8" />
<text x="478.5" y="351.5" font-size="7.5" text-anchor="middle" fill="#000" stroke="#000" stroke-width="0.06" >302</text>
<line x1="493.5" y1="340.8" x2="493.5" y2="342.6" stroke="#363636" stroke-width="0.8" />
<line x1="508.5" y1="340.8" x2="508.5" y2="343.8" stroke="#363636" stroke-width="0.8" />
<text x="508.5" y="351.5" font-size="7.5" text-anchor="middle" fill="#000" stroke="#000" stroke-width="0.06" >304</text>
<line x1="523.5" y1="340.8" x2="523.5" y2="342.6" stroke="#363636" stroke-width="0.8" />
<line x1="538.5" y1="340.8" x2="538.5" y2="343.8" stroke="#363636" stroke-width="0.8" />
<text x="538.5" y="351.5" font-size="7.5" text-anchor="middle" fill="#000" stroke="#000" stroke-width="0.06" >306</text>
<line x1="553.5" y1="340.8" x2="553.5" y2="342.6" stroke="#363636" stroke-width="0.8" />
<line x1="582.75" y1="340.8" x2="582.75" y2="342.6" stroke="#363636" stroke-width="0.8" />
<line x1="594.3" y1="340.8" x2="594.3" y2="343.8" stroke="#363636" stroke-width="0.8" />
<line x1="605.85" y1="340.8" x2="605.85" y2="342.6" stroke="#363636" stroke-width="0.8" />
<line x1="617.4" y1="340.8" x2="617.4" y2="343.8" stroke="#363636" stroke-width="0.8" />
<line x1="628.95" y1="340.8" x2="628.95" y2="342.6" stroke="#363636" stroke-width="0.8" />
<line x1="640.5" y1="340.8" x2="640.5" y2="343.8" stroke="#363636" stroke-width="0.8" />
<line x1="652.05" y1="340.8" x2="652.05" y2="342.6" stroke="#363636" stroke-width="0.8" />
<line x1="663.6" y1="340.8" x2="663.6" y2="343.8" stroke="#363636" stroke-width="0.8" />
<text x="571.2" y="351.5" font-size="7.5" text-anchor="middle" fill="#000" stroke="#000" stroke-width="0.06" >326</text>
<text x="594.3" y="351.5" font-size="7.5" text-anchor="middle" fill="#000" stroke="#000" stroke-width="0.06" >327</text>
<text x="617.4" y="351.5" font-size="7.5" text-anchor="middle" fill="#000" stroke="#000" stroke-width="0.06" >328</text>
<text x="640.5" y="351.5" font-size="7.5" text-anchor="middle" fill="#000" stroke="#000" stroke-width="0.06" >329</text>
<text x="663.6" y="351.5" font-size="7.5" text-anchor="middle" fill="#000" stroke="#000" stroke-width="0.06" >330</text>
<rect x="564.5" y="197.5" width="7.5" height="5" fill="#fff" stroke="none" stroke-width="1" />
<line x1="564.8" y1="202.3" x2="568.3" y2="197.7" stroke="#222" stroke-width="0.8" />
<line x1="567.8" y1="202.3" x2="571.3" y2="197.7" stroke="#222" stroke-width="0.8" />
<rect x="564.5" y="338.3" width="7.5" height="5" fill="#fff" stroke="none" stroke-width="1" />
<line x1="564.8" y1="343.1" x2="568.3" y2="338.5" stroke="#222" stroke-width="0.8" />
<line x1="567.8" y1="343.1" x2="571.3" y2="338.5" stroke="#222" stroke-width="0.8" />
<path d="M474.3,313.5 L474.8,312.11 L475.3,310.72 L475.8,309.33 L476.1,308.5 L476.3,308.5 L476.8,308.5 L477.3,308.5 L477.8,308.5 L478.3,308.5 L478.8,308.5 L479.3,308.5 L479.8,308.5 L480.3,308.5 L480.8,308.5 L481.3,308.5 L481.8,308.5 L482.3,308.5 L482.8,308.5 L483.3,308.5 L483.8,308.5 L484.3,308.5 L484.8,308.5 L485.3,308.5 L485.8,308.5 L486.3,308.5 L486.8,308.5 L487.3,308.5 L487.6,308.5 L487.8,308.29 L488.3,307.76 L488.8,307.23 L489.3,306.71 L489.8,306.18 L490.3,305.65 L490.8,305.12 L491.2,304.7 L491.3,304.7 L491.8,304.69 L492.3,304.69 L492.8,304.69 L493.3,304.68 L493.8,304.68 L494.3,304.67 L494.8,304.67 L495.3,304.66 L495.8,304.66 L496.3,304.65 L496.8,304.65 L497.3,304.64 L497.8,304.64 L498.3,304.64 L498.8,304.63 L499.3,304.63 L499.8,304.62 L500.3,304.62 L500.8,304.61 L501.3,304.61 L501.8,304.6 L502.2,304.6 L502.3,304.43 L502.8,303.58 L503.3,302.73 L503.8,301.88 L504.3,301.04 L504.8,300.19 L505.3,299.34 L505.5,299 L505.8,299 L506.3,299 L506.8,299 L507.3,299 L507.8,299 L508.3,299 L508.8,299 L509.3,299 L509.8,299 L510.3,299 L510.8,299 L511.3,299 L511.8,299 L512.3,299 L512.8,299 L513.3,299 L513.8,299 L514.3,299 L514.8,299 L515,299 L515.3,298.7 L515.8,298.2 L516.3,297.7 L516.8,297.2 L517.3,296.7 L517.8,296.2 L518.3,295.7 L518.8,295.2 L519,295 L519.3,295 L519.8,295 L520.3,295 L520.8,295 L521.3,295 L521.8,295 L522.3,295 L522.8,295 L523.3,295 L523.8,295 L524.3,295 L524.8,295 L525.3,295 L525.8,295 L526.3,295 L526.8,295 L527.3,295 L527.8,295 L528.3,295 L528.8,295 L529.3,295 L529.8,295 L530.3,295 L530.8,295 L531.3,295 L531.8,290.36 L532,288.5 L532.3,288.2 L532.5,288 L532.8,288 L533.3,288 L533.8,288 L534.3,288 L534.8,288 L535.3,288 L535.8,288 L536.3,288 L536.8,288 L537.3,288 L537.8,288 L538.3,288 L538.8,288 L539.3,288 L539.8,288 L540.3,288 L540.8,288 L541.3,288 L541.8,293.7 L542.3,293.7 L542.8,293.7 L543.3,293.7 L543.8,293.7 L544.3,293.7 L544.8,293.7 L545.3,293.7 L545.8,293.7 L546.3,293.7 L546.8,293.7 L547.3,293.7 L547.8,293.7 L548.3,293.7 L548.8,293.7 L549.3,293.7 L549.8,293.7 L550,293.7 L550.3,293.77 L550.8,293.89 L551.3,294 L551.8,294.12 L552.3,294.24 L552.8,294.35 L553,294.4 L553.3,294.56 L553.8,294.83 L554.3,295.09 L554.8,295.36 L555.3,295.63 L555.8,295.89 L556,296 L556.3,296.12 L556.8,296.32 L557.3,296.52 L557.8,296.72 L558.3,296.92 L558.8,297.12 L559.3,297.32 L559.5,297.4 L559.8,297.35 L560.3,297.27 L560.8,297.19 L561.3,297.11 L561.8,297.03 L562,297 L562.3,296.69 L562.8,296.17 L563.3,295.65 L563.8,295.13 L564.3,294.6 L564.4,294.5 L564.8,295.02 L565.3,295.67 L565.8,296.32 L566.3,296.97 L566.8,297.62 L567.3,298.27 L567.4,298.4 L567.4,301.5 L567.3,301.41 L566.8,300.98 L566.3,300.55 L565.8,300.11 L565.3,299.68 L564.8,299.25 L564.4,298.9 L564.3,299.01 L563.8,299.55 L563.3,300.09 L562.8,300.63 L562.3,301.18 L562,301.5 L561.8,301.51 L561.3,301.53 L560.8,301.55 L560.3,301.57 L559.8,301.59 L559.5,301.6 L559.3,301.57 L558.8,301.48 L558.3,301.39 L557.8,301.31 L557.3,301.22 L556.8,301.14 L556.3,301.05 L556,301 L555.8,300.93 L555.3,300.77 L554.8,300.6 L554.3,300.43 L553.8,300.27 L553.3,300.1 L553,300 L552.8,299.97 L552.3,299.88 L551.8,299.8 L551.3,299.72 L550.8,299.63 L550.3,299.55 L550,299.5 L549.8,299.5 L549.3,299.49 L548.8,299.49 L548.3,299.48 L547.8,299.47 L547.3,299.47 L546.8,299.46 L546.3,299.45 L545.8,299.45 L545.3,299.44 L544.8,299.44 L544.3,299.43 L543.8,299.42 L543.3,299.42 L542.8,299.41 L542.3,299.41 L541.8,299.4 L541.3,293.3 L540.8,293.3 L540.3,293.3 L539.8,293.3 L539.3,293.3 L538.8,293.3 L538.3,293.3 L537.8,293.3 L537.3,293.3 L536.8,293.3 L536.3,293.3 L535.8,293.3 L535.3,293.3 L534.8,293.3 L534.3,293.3 L533.8,293.3 L533.3,293.3 L532.8,293.3 L532.5,293.3 L532.3,294.78 L532,297 L531.8,297.66 L531.3,299.3 L530.8,299.3 L530.3,299.3 L529.8,299.3 L529.3,299.3 L528.8,299.3 L528.3,299.3 L527.8,299.3 L527.3,299.3 L526.8,299.3 L526.3,299.3 L525.8,299.3 L525.3,299.3 L524.8,299.3 L524.3,299.3 L523.8,299.3 L523.3,299.3 L522.8,299.3 L522.3,299.3 L521.8,299.3 L521.3,299.3 L520.8,299.3 L520.3,299.3 L519.8,299.3 L519.3,299.3 L519,299.3 L518.8,299.46 L518.3,299.86 L517.8,300.26 L517.3,300.66 L516.8,301.06 L516.3,301.46 L515.8,301.86 L515.3,302.26 L515,302.5 L514.8,302.5 L514.3,302.5 L513.8,302.5 L513.3,302.5 L512.8,302.5 L512.3,302.5 L511.8,302.5 L511.3,302.5 L510.8,302.5 L510.3,302.5 L509.8,302.5 L509.3,302.5 L508.8,302.5 L508.3,302.5 L507.8,302.5 L507.3,302.5 L506.8,302.5 L506.3,302.5 L505.8,302.5 L505.5,302.5 L505.3,302.75 L504.8,303.37 L504.3,303.99 L503.8,304.61 L503.3,305.23 L502.8,305.85 L502.3,306.48 L502.2,306.6 L501.8,306.6 L501.3,306.6 L500.8,306.6 L500.3,306.6 L499.8,306.6 L499.3,306.6 L498.8,306.6 L498.3,306.6 L497.8,306.6 L497.3,306.6 L496.8,306.6 L496.3,306.6 L495.8,306.6 L495.3,306.6 L494.8,306.6 L494.3,306.6 L493.8,306.6 L493.3,306.6 L492.8,306.6 L492.3,306.6 L491.8,306.6 L491.3,306.6 L491.2,306.6 L490.8,307.02 L490.3,307.55 L489.8,308.08 L489.3,308.61 L488.8,309.13 L488.3,309.66 L487.8,310.19 L487.6,310.4 L487.3,310.4 L486.8,310.4 L486.3,310.4 L485.8,310.4 L485.3,310.4 L484.8,310.4 L484.3,310.4 L483.8,310.4 L483.3,310.4 L482.8,310.4 L482.3,310.4 L481.8,310.4 L481.3,310.4 L480.8,310.4 L480.3,310.4 L479.8,310.4 L479.3,310.4 L478.8,310.4 L478.3,310.4 L477.8,310.4 L477.3,310.4 L476.8,310.4 L476.3,310.4 L476.1,310.4 L475.8,311.2 L475.3,312.53 L474.8,313.87 L474.3,315.2 Z" fill="#080808" stroke="#080808" stroke-width="0.5" stroke-linejoin="round"/>
<polyline points="474.3,312.5 474.8,311.17 475.3,309.83 475.8,308.5 476.1,307.7 476.3,307.7 476.8,307.69 477.3,307.69 477.8,307.69 478.3,307.68 478.8,307.68 479.3,307.67 479.8,307.67 480.3,307.66 480.8,307.66 481.3,307.65 481.8,307.65 482.3,307.65 482.8,307.64 483.3,307.64 483.8,307.63 484.3,307.63 484.8,307.62 485.3,307.62 485.8,307.62 486.3,307.61 486.8,307.61 487.3,307.6 487.6,307.6 487.8,307.34 488.3,306.71 488.8,306.07 489.3,305.43 489.8,304.79 490.3,304.15 490.8,303.51 491.2,303 491.3,303 491.8,303 492.3,303 492.8,303 493.3,303 493.8,303 494.3,303 494.8,303 495.3,303 495.8,303 496.3,303 496.8,303 497.3,303 497.8,303 498.3,303 498.8,303 499.3,303 499.8,303 500.3,303 500.8,303 501.3,303 501.8,303 502.2,303 502.3,302.83 502.8,302 503.3,301.17 503.8,300.33 504.3,299.5 504.8,298.67 505.3,297.83 505.5,297.5 505.8,297.5 506.3,297.49 506.8,297.49 507.3,297.48 507.8,297.48 508.3,297.47 508.8,297.47 509.3,297.46 509.8,297.45 510.3,297.45 510.8,297.44 511.3,297.44 511.8,297.43 512.3,297.43 512.8,297.42 513.3,297.42 513.8,297.41 514.3,297.41 514.8,297.4 515,297.4 515.3,297.07 515.8,296.52 516.3,295.97 516.8,295.42 517.3,294.87 517.8,294.32 518.3,293.77 518.8,293.22 519,293 519.3,293 519.8,293 520.3,293 520.8,293 521.3,293 521.8,293 522.3,293 522.8,293 523.3,293 523.8,293 524.3,293 524.8,293 525.3,293 525.8,293 526.3,293 526.8,293 527.3,293 527.8,293 528.3,293 528.8,293 529.3,293 529.8,293 530.3,293 530.8,293 531.3,293 531.8,287.29 532,285 532.3,284.4 532.5,284 532.8,284 533.3,284 533.8,284 534.3,284 534.8,284 535.3,284 535.8,284 536.3,284 536.8,284 537.3,284 537.8,284 538.3,284 538.8,284 539.3,284 539.8,284 540.3,284 540.8,284 541.3,284 541.8,291.8 542.3,291.8 542.8,291.8 543.3,291.8 543.8,291.8 544.3,291.8 544.8,291.8 545.3,291.8 545.8,291.8 546.3,291.8 546.8,291.8 547.3,291.8 547.8,291.8 548.3,291.8 548.8,291.8 549.3,291.8 549.8,291.8 550,291.8 550.3,291.87 550.8,291.99 551.3,292.1 551.8,292.22 552.3,292.34 552.8,292.45 553,292.5 553.3,292.68 553.8,292.98 554.3,293.28 554.8,293.58 555.3,293.88 555.8,294.18 556,294.3 556.3,294.43 556.8,294.64 557.3,294.86 557.8,295.07 558.3,295.29 558.8,295.5 559.3,295.71 559.5,295.8 559.8,295.75 560.3,295.67 560.8,295.59 561.3,295.51 561.8,295.43 562,295.4 562.3,295.12 562.8,294.67 563.3,294.21 563.8,293.75 564.3,293.29 564.4,293.2 564.8,293.76 565.3,294.46 565.8,295.16 566.3,295.86 566.8,296.56 567.3,297.26 567.4,297.4" fill="none" stroke="#4a4a4a" stroke-width="0.6" stroke-linejoin="round" />
<polyline points="474.3,314.06 474.8,312.69 475.3,311.32 475.8,309.95 476.1,309.13 476.3,309.13 476.8,309.13 477.3,309.13 477.8,309.13 478.3,309.13 478.8,309.13 479.3,309.13 479.8,309.13 480.3,309.13 480.8,309.13 481.3,309.13 481.8,309.13 482.3,309.13 482.8,309.13 483.3,309.13 483.8,309.13 484.3,309.13 484.8,309.13 485.3,309.13 485.8,309.13 486.3,309.13 486.8,309.13 487.3,309.13 487.6,309.13 487.8,308.92 488.3,308.39 488.8,307.86 489.3,307.33 489.8,306.8 490.3,306.28 490.8,305.75 491.2,305.33 491.3,305.33 491.8,305.32 492.3,305.32 492.8,305.32 493.3,305.31 493.8,305.31 494.3,305.31 494.8,305.31 495.3,305.3 495.8,305.3 496.3,305.3 496.8,305.29 497.3,305.29 497.8,305.29 498.3,305.28 498.8,305.28 499.3,305.28 499.8,305.27 500.3,305.27 500.8,305.27 501.3,305.27 501.8,305.26 502.2,305.26 502.3,305.11 502.8,304.33 503.3,303.56 503.8,302.78 504.3,302.01 504.8,301.24 505.3,300.46 505.5,300.15 505.8,300.15 506.3,300.15 506.8,300.15 507.3,300.15 507.8,300.15 508.3,300.15 508.8,300.15 509.3,300.15 509.8,300.15 510.3,300.15 510.8,300.15 511.3,300.15 511.8,300.15 512.3,300.15 512.8,300.15 513.3,300.15 513.8,300.15 514.3,300.15 514.8,300.15 515,300.15 515.3,299.87 515.8,299.41 516.3,298.94 516.8,298.47 517.3,298.01 517.8,297.54 518.3,297.07 518.8,296.61 519,296.42 519.3,296.42 519.8,296.42 520.3,296.42 520.8,296.42 521.3,296.42 521.8,296.42 522.3,296.42 522.8,296.42 523.3,296.42 523.8,296.42 524.3,296.42 524.8,296.42 525.3,296.42 525.8,296.42 526.3,296.42 526.8,296.42 527.3,296.42 527.8,296.42 528.3,296.42 528.8,296.42 529.3,296.42 529.8,296.42 530.3,296.42 530.8,296.42 531.3,296.42 531.8,292.77 532,291.31 532.3,290.37 532.5,289.75 532.8,289.75 533.3,289.75 533.8,289.75 534.3,289.75 534.8,289.75 535.3,289.75 535.8,289.75 536.3,289.75 536.8,289.75 537.3,289.75 537.8,289.75 538.3,289.75 538.8,289.75 539.3,289.75 539.8,289.75 540.3,289.75 540.8,289.75 541.3,289.75 541.8,295.58 542.3,295.58 542.8,295.59 543.3,295.59 543.8,295.59 544.3,295.59 544.8,295.59 545.3,295.6 545.8,295.6 546.3,295.6 546.8,295.6 547.3,295.6 547.8,295.61 548.3,295.61 548.8,295.61 549.3,295.61 549.8,295.61 550,295.61 550.3,295.68 550.8,295.78 551.3,295.89 551.8,295.99 552.3,296.1 552.8,296.21 553,296.25 553.3,296.39 553.8,296.62 554.3,296.86 554.8,297.09 555.3,297.32 555.8,297.56 556,297.65 556.3,297.75 556.8,297.91 557.3,298.07 557.8,298.23 558.3,298.4 558.8,298.56 559.3,298.72 559.5,298.79 559.8,298.75 560.3,298.69 560.8,298.63 561.3,298.57 561.8,298.51 562,298.49 562.3,298.17 562.8,297.64 563.3,297.11 563.8,296.59 564.3,296.06 564.4,295.95 564.8,296.41 565.3,296.99 565.8,297.57 566.3,298.15 566.8,298.73 567.3,299.31 567.4,299.42" fill="none" stroke="#7a7a7a" stroke-width="0.35" stroke-linejoin="round" />
<polyline points="532.3,284 532.7,281 541,280.88 541.5,285" fill="none" stroke="#888" stroke-width="0.6" stroke-linejoin="round" />
<polyline points="532.3,285.3 532.7,282.3 541,282.21 541.5,286.3" fill="none" stroke="#777" stroke-width="0.6" stroke-linejoin="round" />
<polyline points="532.3,286.6 532.7,283.6 541,283.65 541.5,287.6" fill="none" stroke="#555" stroke-width="0.6" stroke-linejoin="round" />
<polyline points="532.3,288.2 532.7,285.2 541,285.31 541.5,289.2" fill="none" stroke="#888" stroke-width="0.6" stroke-linejoin="round" />
<path d="M571,308.3 L571.5,308.3 L572,308.3 L572.5,308.3 L573,308.3 L573.5,308.3 L574,308.3 L574.5,308.3 L575,308.3 L575.5,308.3 L576,308.3 L576.5,308.3 L577,308.3 L577.5,308.3 L578,308.3 L578.5,308.3 L579,308.3 L579.5,308.3 L580,308.3 L580.5,308.3 L581,308.3 L581.5,308.3 L582,308.3 L582.5,308.3 L583,308.3 L583.5,308.3 L583.7,308.3 L584,308.08 L584.5,307.71 L585,307.34 L585.5,306.97 L586,306.6 L586.5,306.23 L587,305.86 L587.5,305.49 L588,305.11 L588.5,304.74 L589,304.37 L589.1,304.3 L589.5,304.3 L590,304.3 L590.5,304.29 L591,304.29 L591.5,304.29 L592,304.28 L592.5,304.28 L593,304.28 L593.5,304.28 L594,304.27 L594.5,304.27 L595,304.27 L595.5,304.26 L596,304.26 L596.5,304.26 L597,304.26 L597.5,304.25 L598,304.25 L598.5,304.25 L599,304.25 L599.5,304.24 L600,304.24 L600.5,304.24 L601,304.23 L601.5,304.23 L602,304.23 L602.5,304.23 L603,304.22 L603.5,304.22 L604,304.22 L604.5,304.22 L605,304.21 L605.5,304.21 L606,304.21 L606.5,304.2 L607,304.2 L607.3,304.2 L607.5,304.01 L608,303.55 L608.5,303.09 L609,302.63 L609.5,302.16 L610,301.7 L610.5,301.24 L611,300.77 L611.5,300.31 L612,299.85 L612.5,299.39 L612.7,299.2 L613,299.2 L613.5,299.2 L614,299.2 L614.5,299.2 L615,299.2 L615.5,299.2 L616,299.2 L616.5,299.2 L617,299.2 L617.5,299.2 L618,299.2 L618.5,299.2 L619,299.2 L619.5,299.2 L620,299.2 L620.5,299.2 L621,299.2 L621.5,299.2 L622,299.2 L622.5,299.2 L623,299.2 L623.5,299.2 L624,299.2 L624.5,299.2 L625,299.2 L625.5,299.2 L626,299.2 L626.5,299.2 L627,299.2 L627.5,299.2 L628,299.2 L628.5,299.2 L629,299.2 L629.5,298.79 L630,298.39 L630.5,297.98 L631,297.57 L631.5,297.16 L632,296.76 L632.5,296.35 L633,295.94 L633.5,295.53 L634,295.13 L634.4,294.8 L634.5,294.8 L635,294.79 L635.5,294.79 L636,294.78 L636.5,294.77 L637,294.77 L637.5,294.76 L638,294.76 L638.5,294.75 L639,294.74 L639.5,294.74 L640,294.73 L640.5,294.73 L641,294.72 L641.5,294.71 L642,294.71 L642.5,294.7 L643,294.7 L643.5,294.69 L644,294.68 L644.5,294.68 L645,294.67 L645.5,294.66 L646,294.66 L646.5,294.65 L647,294.65 L647.5,294.64 L648,294.63 L648.5,294.63 L649,294.62 L649.5,294.62 L650,294.61 L650.5,294.6 L650.8,294.6 L651,294.24 L651.5,293.32 L652,292.41 L652.5,291.5 L653,290.16 L653.5,288.82 L654,287.48 L654.5,286.14 L655,284.8 L655.3,284 L655.3,291 L655,291.64 L654.5,292.71 L654,293.79 L653.5,294.86 L653,295.93 L652.5,297 L652,297.65 L651.5,298.29 L651,298.94 L650.8,299.2 L650.5,299.2 L650,299.2 L649.5,299.2 L649,299.2 L648.5,299.2 L648,299.2 L647.5,299.2 L647,299.2 L646.5,299.2 L646,299.2 L645.5,299.2 L645,299.2 L644.5,299.2 L644,299.2 L643.5,299.2 L643,299.2 L642.5,299.2 L642,299.2 L641.5,299.2 L641,299.2 L640.5,299.2 L640,299.2 L639.5,299.2 L639,299.2 L638.5,299.2 L638,299.2 L637.5,299.2 L637,299.2 L636.5,299.2 L636,299.2 L635.5,299.2 L635,299.2 L634.5,299.2 L634.4,299.2 L634,299.44 L633.5,299.73 L633,300.03 L632.5,300.33 L632,300.62 L631.5,300.92 L631,301.21 L630.5,301.51 L630,301.81 L629.5,302.1 L629,302.4 L628.5,302.4 L628,302.4 L627.5,302.4 L627,302.4 L626.5,302.4 L626,302.4 L625.5,302.4 L625,302.4 L624.5,302.4 L624,302.4 L623.5,302.4 L623,302.4 L622.5,302.4 L622,302.4 L621.5,302.4 L621,302.4 L620.5,302.4 L620,302.4 L619.5,302.4 L619,302.4 L618.5,302.4 L618,302.4 L617.5,302.4 L617,302.4 L616.5,302.4 L616,302.4 L615.5,302.4 L615,302.4 L614.5,302.4 L614,302.4 L613.5,302.4 L613,302.4 L612.7,302.4 L612.5,302.56 L612,302.94 L611.5,303.33 L611,303.72 L610.5,304.11 L610,304.5 L609.5,304.89 L609,305.28 L608.5,305.67 L608,306.06 L607.5,306.44 L607.3,306.6 L607,306.6 L606.5,306.6 L606,306.6 L605.5,306.6 L605,306.6 L604.5,306.6 L604,306.6 L603.5,306.6 L603,306.6 L602.5,306.6 L602,306.6 L601.5,306.6 L601,306.6 L600.5,306.6 L600,306.6 L599.5,306.6 L599,306.6 L598.5,306.6 L598,306.6 L597.5,306.6 L597,306.6 L596.5,306.6 L596,306.6 L595.5,306.6 L595,306.6 L594.5,306.6 L594,306.6 L593.5,306.6 L593,306.6 L592.5,306.6 L592,306.6 L591.5,306.6 L591,306.6 L590.5,306.6 L590,306.6 L589.5,306.6 L589.1,306.6 L589,306.67 L588.5,307.02 L588,307.37 L587.5,307.73 L587,308.08 L586.5,308.43 L586,308.78 L585.5,309.13 L585,309.49 L584.5,309.84 L584,310.19 L583.7,310.4 L583.5,310.4 L583,310.4 L582.5,310.4 L582,310.4 L581.5,310.4 L581,310.4 L580.5,310.4 L580,310.4 L579.5,310.4 L579,310.4 L578.5,310.4 L578,310.4 L577.5,310.4 L577,310.4 L576.5,310.4 L576,310.4 L575.5,310.4 L575,310.4 L574.5,310.4 L574,310.4 L573.5,310.4 L573,310.4 L572.5,310.4 L572,310.4 L571.5,310.4 L571,310.4 Z" fill="#080808" stroke="#080808" stroke-width="0.5" stroke-linejoin="round"/>
<polyline points="571,307.5 571.5,307.5 572,307.49 572.5,307.49 573,307.48 573.5,307.48 574,307.48 574.5,307.47 575,307.47 575.5,307.46 576,307.46 576.5,307.46 577,307.45 577.5,307.45 578,307.44 578.5,307.44 579,307.44 579.5,307.43 580,307.43 580.5,307.43 581,307.42 581.5,307.42 582,307.41 582.5,307.41 583,307.41 583.5,307.4 583.7,307.4 584,307.13 584.5,306.69 585,306.24 585.5,305.8 586,305.36 586.5,304.91 587,304.47 587.5,304.02 588,303.58 588.5,303.13 589,302.69 589.1,302.6 589.5,302.6 590,302.6 590.5,302.59 591,302.59 591.5,302.59 592,302.58 592.5,302.58 593,302.58 593.5,302.58 594,302.57 594.5,302.57 595,302.57 595.5,302.56 596,302.56 596.5,302.56 597,302.56 597.5,302.55 598,302.55 598.5,302.55 599,302.55 599.5,302.54 600,302.54 600.5,302.54 601,302.53 601.5,302.53 602,302.53 602.5,302.53 603,302.52 603.5,302.52 604,302.52 604.5,302.52 605,302.51 605.5,302.51 606,302.51 606.5,302.5 607,302.5 607.3,302.5 607.5,302.27 608,301.68 608.5,301.1 609,300.52 609.5,299.93 610,299.35 610.5,298.77 611,298.18 611.5,297.6 612,297.02 612.5,296.43 612.7,296.2 613,296.2 613.5,296.2 614,296.2 614.5,296.2 615,296.2 615.5,296.2 616,296.2 616.5,296.2 617,296.2 617.5,296.2 618,296.2 618.5,296.2 619,296.2 619.5,296.2 620,296.2 620.5,296.2 621,296.2 621.5,296.2 622,296.2 622.5,296.2 623,296.2 623.5,296.2 624,296.2 624.5,296.2 625,296.2 625.5,296.2 626,296.2 626.5,296.2 627,296.2 627.5,296.2 628,296.2 628.5,296.2 629,296.2 629.5,295.82 630,295.44 630.5,295.06 631,294.68 631.5,294.3 632,293.92 632.5,293.54 633,293.16 633.5,292.78 634,292.4 634.4,292.1 634.5,292.1 635,292.1 635.5,292.09 636,292.09 636.5,292.09 637,292.08 637.5,292.08 638,292.08 638.5,292.07 639,292.07 639.5,292.07 640,292.07 640.5,292.06 641,292.06 641.5,292.06 642,292.05 642.5,292.05 643,292.05 643.5,292.04 644,292.04 644.5,292.04 645,292.04 645.5,292.03 646,292.03 646.5,292.03 647,292.02 647.5,292.02 648,292.02 648.5,292.01 649,292.01 649.5,292.01 650,292 650.5,292 650.8,292 651,291.71 651.5,290.97 652,290.24 652.5,289.5 653,288.25 653.5,287 654,285.75 654.5,284.5 655,283.25 655.3,282.5" fill="none" stroke="#4a4a4a" stroke-width="0.6" stroke-linejoin="round" />
<polyline points="571,308.99 571.5,308.99 572,308.99 572.5,308.99 573,308.99 573.5,308.99 574,308.99 574.5,308.99 575,308.99 575.5,308.99 576,308.99 576.5,308.99 577,308.99 577.5,308.99 578,308.99 578.5,308.99 579,308.99 579.5,308.99 580,308.99 580.5,308.99 581,308.99 581.5,308.99 582,308.99 582.5,308.99 583,308.99 583.5,308.99 583.7,308.99 584,308.77 584.5,308.41 585,308.05 585.5,307.68 586,307.32 586.5,306.95 587,306.59 587.5,306.22 588,305.86 588.5,305.5 589,305.13 589.1,305.06 589.5,305.06 590,305.06 590.5,305.05 591,305.05 591.5,305.05 592,305.05 592.5,305.05 593,305.04 593.5,305.04 594,305.04 594.5,305.04 595,305.04 595.5,305.04 596,305.03 596.5,305.03 597,305.03 597.5,305.03 598,305.03 598.5,305.02 599,305.02 599.5,305.02 600,305.02 600.5,305.02 601,305.02 601.5,305.01 602,305.01 602.5,305.01 603,305.01 603.5,305.01 604,305 604.5,305 605,305 605.5,305 606,305 606.5,304.99 607,304.99 607.3,304.99 607.5,304.82 608,304.38 608.5,303.94 609,303.5 609.5,303.06 610,302.62 610.5,302.19 611,301.75 611.5,301.31 612,300.87 612.5,300.43 612.7,300.26 613,300.26 613.5,300.26 614,300.26 614.5,300.26 615,300.26 615.5,300.26 616,300.26 616.5,300.26 617,300.26 617.5,300.26 618,300.26 618.5,300.26 619,300.26 619.5,300.26 620,300.26 620.5,300.26 621,300.26 621.5,300.26 622,300.26 622.5,300.26 623,300.26 623.5,300.26 624,300.26 624.5,300.26 625,300.26 625.5,300.26 626,300.26 626.5,300.26 627,300.26 627.5,300.26 628,300.26 628.5,300.26 629,300.26 629.5,299.89 630,299.51 630.5,299.14 631,298.77 631.5,298.4 632,298.03 632.5,297.66 633,297.29 633.5,296.92 634,296.55 634.4,296.25 634.5,296.25 635,296.25 635.5,296.24 636,296.24 636.5,296.23 637,296.23 637.5,296.23 638,296.22 638.5,296.22 639,296.21 639.5,296.21 640,296.21 640.5,296.2 641,296.2 641.5,296.19 642,296.19 642.5,296.19 643,296.18 643.5,296.18 644,296.17 644.5,296.17 645,296.17 645.5,296.16 646,296.16 646.5,296.15 647,296.15 647.5,296.14 648,296.14 648.5,296.14 649,296.13 649.5,296.13 650,296.12 650.5,296.12 650.8,296.12 651,295.79 651.5,294.96 652,294.14 652.5,293.31 653,292.06 653.5,290.81 654,289.56 654.5,288.31 655,287.06 655.3,286.31" fill="none" stroke="#7a7a7a" stroke-width="0.35" stroke-linejoin="round" />
<polyline points="532.6,284 533.3,255 534.6,243 537.1,233.2 538.7,230 539.8,214.2 540.3,255 541.3,289.5 543.3,290.6 546,290.2 549.8,289.8 551,289.2 553,291 556,293.6 559.5,297.3 561.6,297.3 564.4,291.1 567.3,296.6" fill="none" stroke="#ff1a1a" stroke-width="0.95" stroke-linejoin="round" />
<polyline points="612.7,298.2 629.5,298 634,291.4 637.5,288.7 640,286 640.5,282.2 641.2,284.4 643,283.8 644.5,284.4 646.5,280 648,276.8 649.5,270.8 650.3,266.5 650.8,270.8 651,282.2 652.5,286 653.5,286.5 654.3,281.7 655,266.5 655.5,233.5 655.9,232.1 656.1,260 656,311" fill="none" stroke="#ff1a1a" stroke-width="0.95" stroke-linejoin="round" />
<line x1="655.3" y1="305" x2="655.3" y2="340.8" stroke="#000" stroke-width="0.8" />
<rect x="532.7" y="212.6" width="9.7" height="92.9" fill="none" stroke="#2aa02a" stroke-width="0.8" stroke-dasharray="2.2,1.6"/>
<rect x="650.3" y="228.5" width="7.6" height="72.2" fill="none" stroke="#3030ff" stroke-width="0.8" stroke-dasharray="2.2,1.6"/>
<text x="521.6" y="209.4" font-size="8.2" text-anchor="start" fill="#2aa02a" stroke="#2aa02a" stroke-width="0.06" >1.5 A cm<tspan font-size="5.5" dy="-3">-2</tspan></text>
<text x="637.5" y="224.4" font-size="8.2" text-anchor="middle" fill="#2020ff" stroke="#2020ff" stroke-width="0.06" >1.0 step to 1.5</text>
<text x="482.6" y="324" font-size="7.5" text-anchor="middle" fill="#000" stroke="#000" stroke-width="0.06" >0.3</text>
<text x="496.1" y="318" font-size="7.5" text-anchor="middle" fill="#000" stroke="#000" stroke-width="0.06" >0.5</text>
<text x="511.2" y="315" font-size="7.5" text-anchor="middle" fill="#000" stroke="#000" stroke-width="0.06" >0.8</text>
<text x="524.4" y="310.3" font-size="7.5" text-anchor="middle" fill="#000" stroke="#000" stroke-width="0.06" >1.0</text>
<text x="573.8" y="321" font-size="7.5" text-anchor="middle" fill="#000" stroke="#000" stroke-width="0.06" >0.3</text>
<text x="597.5" y="318.3" font-size="7.5" text-anchor="middle" fill="#000" stroke="#000" stroke-width="0.06" >0.5</text>
<text x="618.7" y="313.4" font-size="7.5" text-anchor="middle" fill="#000" stroke="#000" stroke-width="0.06" >0.8</text>
<text x="641.2" y="311.4" font-size="7.5" text-anchor="middle" fill="#000" stroke="#000" stroke-width="0.06" >1.0</text>
<line x1="557.2" y1="247.2" x2="573.9" y2="247.2" stroke="#ff3030" stroke-width="1" />
<line x1="557.2" y1="255.8" x2="573.9" y2="255.8" stroke="#b4b4b4" stroke-width="1" />
<text x="575.9" y="250" font-size="7.2" text-anchor="start" fill="#000" stroke="#000" stroke-width="0.06" >Abnormal cell</text>
<text x="575.9" y="258.6" font-size="7.2" text-anchor="start" fill="#000" stroke="#000" stroke-width="0.06" >Normal cells</text>
<text x="443.5" y="198.1" font-size="16.8" text-anchor="start" fill="#000" stroke="#000" stroke-width="0.06" >f)</text>
<text transform="translate(453.8,270) rotate(-90)" x="0" y="0" font-size="9.15" text-anchor="middle" fill="#000" stroke="#000" stroke-width="0.06">Individual cell voltage (V)</text>
<text x="569.2" y="366.3" font-size="9" text-anchor="middle" fill="#000" stroke="#000" stroke-width="0.06" >Time (h)</text>
</svg></body></html>
